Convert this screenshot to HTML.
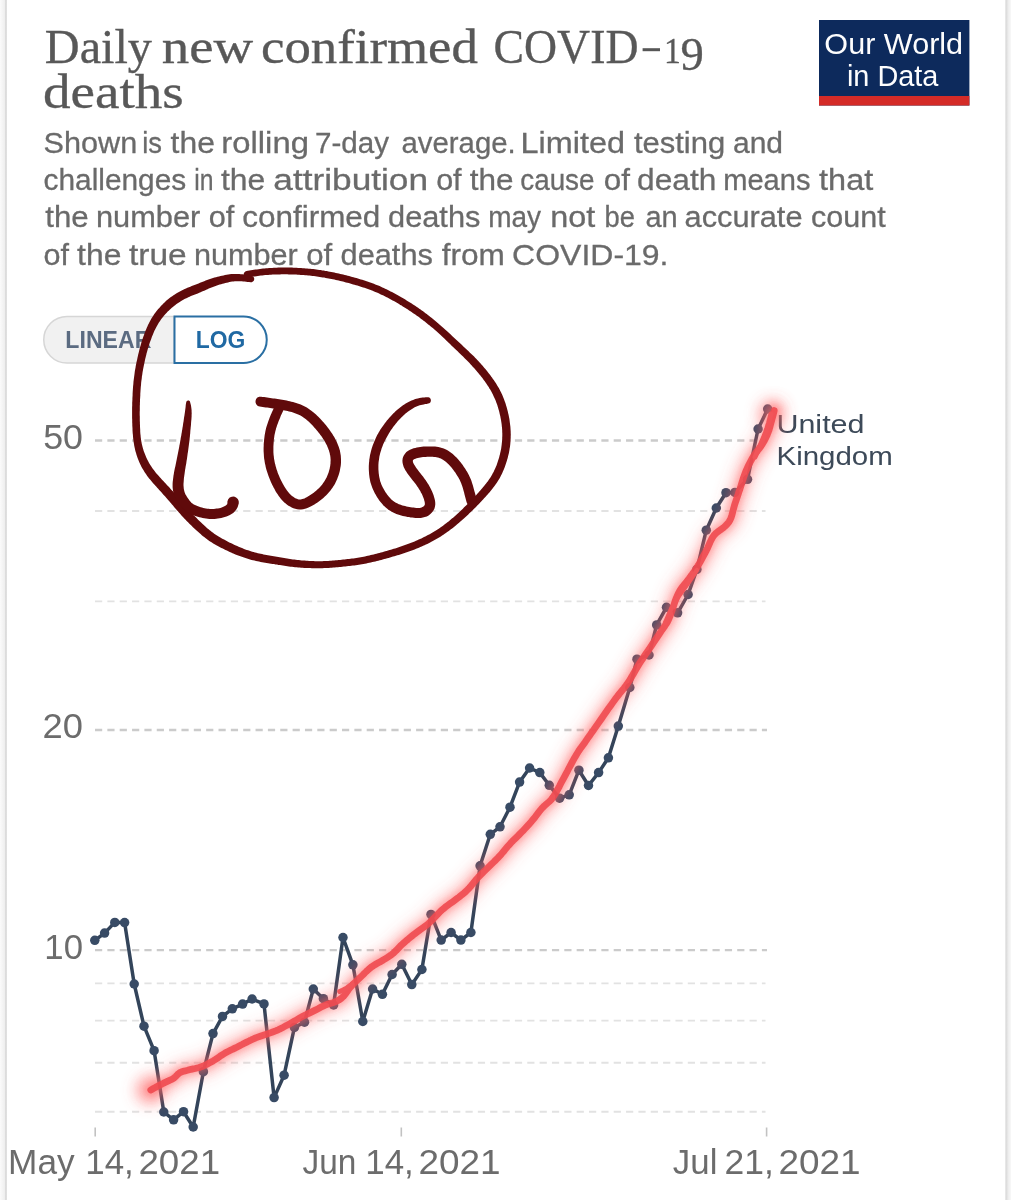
<!DOCTYPE html>
<html><head><meta charset="utf-8"><title>Daily new confirmed COVID-19 deaths</title>
<style>
html,body{margin:0;padding:0;background:#fff;}
body{width:1011px;height:1200px;overflow:hidden;font-family:"Liberation Sans",sans-serif;}
svg{display:block}
text{font-family:"Liberation Sans",sans-serif}
.serif{font-family:"Liberation Serif",serif}
</style></head><body>
<svg width="1011" height="1200" viewBox="0 0 1011 1200">
<defs>
<linearGradient id="lg" x1="0" x2="1" y1="0" y2="0"><stop offset="0" stop-color="#fbfbfb"/><stop offset="0.62" stop-color="#efefef"/><stop offset="0.75" stop-color="#dcdcdc"/><stop offset="0.9" stop-color="#e0e0e0"/><stop offset="1" stop-color="#ffffff"/></linearGradient>
<linearGradient id="rg" x1="0" x2="1" y1="0" y2="0"><stop offset="0" stop-color="#ffffff"/><stop offset="0.12" stop-color="#dcdcdc"/><stop offset="0.3" stop-color="#dedede"/><stop offset="0.5" stop-color="#ececec"/><stop offset="1" stop-color="#f8f8f8"/></linearGradient>
<filter id="glow" x="-10%" y="-10%" width="120%" height="120%"><feGaussianBlur stdDeviation="4.5"/></filter>
<filter id="glow2" x="-100%" y="-100%" width="300%" height="300%"><feGaussianBlur stdDeviation="7"/></filter>
<filter id="glow3" x="-10%" y="-10%" width="120%" height="120%"><feGaussianBlur stdDeviation="3"/></filter>
</defs>
<rect width="1011" height="1200" fill="#fff"/>
<rect x="0" y="0" width="7.3" height="1200" fill="url(#lg)"/>
<rect x="1005" y="0" width="6" height="1200" fill="url(#rg)"/>

<rect x="819" y="20" width="150.4" height="85.5" fill="#0d2a5c"/><rect x="819" y="96" width="150.4" height="9.5" fill="#d42b27"/>
<rect x="642.6" y="48.2" width="17.4" height="3" fill="#575757"/>
<path d="M174,316.5 H67 a23.25,23.25 0 0 0 0,46.5 H174 Z" fill="#f1f1f1" stroke="#d6d6d6" stroke-width="1.5"/>
<path d="M174.5,316.5 H243.5 a23.25,23.25 0 0 1 0,46.5 H174.5 Z" fill="#fff" stroke="#2a6fa3" stroke-width="2"/>
<line x1="95" x2="765.5" y1="1111.8" y2="1111.8" stroke="#e2e2e2" stroke-width="1.9" stroke-dasharray="7.2 5.15"/>
<line x1="95" x2="765.5" y1="1062.8" y2="1062.8" stroke="#e2e2e2" stroke-width="1.9" stroke-dasharray="7.2 5.15"/>
<line x1="95" x2="765.5" y1="1020.6" y2="1020.6" stroke="#e2e2e2" stroke-width="1.9" stroke-dasharray="7.2 5.15"/>
<line x1="95" x2="765.5" y1="983.4" y2="983.4" stroke="#e2e2e2" stroke-width="1.9" stroke-dasharray="7.2 5.15"/>
<line x1="95" x2="765.5" y1="601.4" y2="601.4" stroke="#e2e2e2" stroke-width="1.9" stroke-dasharray="7.2 5.15"/>
<line x1="95" x2="765.5" y1="511.0" y2="511.0" stroke="#e2e2e2" stroke-width="1.9" stroke-dasharray="7.2 5.15"/>
<line x1="95" x2="767" y1="950.2" y2="950.2" stroke="#cbcbcb" stroke-width="2.3" stroke-dasharray="7.2 5.15"/>
<line x1="95" x2="767" y1="730.0" y2="730.0" stroke="#cbcbcb" stroke-width="2.3" stroke-dasharray="7.2 5.15"/>
<line x1="95" x2="767" y1="440.5" y2="440.5" stroke="#cbcbcb" stroke-width="2.3" stroke-dasharray="7.2 5.15"/>
<line x1="95.2" x2="95.2" y1="1127.5" y2="1136.5" stroke="#c2c2c2" stroke-width="1.6"/>
<line x1="401.3" x2="401.3" y1="1127.5" y2="1136.5" stroke="#c2c2c2" stroke-width="1.6"/>
<line x1="766.6" x2="766.6" y1="1127.5" y2="1136.5" stroke="#c2c2c2" stroke-width="1.6"/>
<g opacity="0.995">
<text class="serif" transform="translate(44.85,62.50) scale(0.9744,1)" font-size="49.5" stroke="#575757" stroke-width="0.35" fill="#575757">Daily</text>
<text class="serif" transform="translate(161.74,62.50) scale(1.1089,1)" font-size="49.5" stroke="#575757" stroke-width="0.35" fill="#575757">new</text>
<text class="serif" transform="translate(260.95,62.50) scale(1.0670,1)" font-size="49.5" stroke="#575757" stroke-width="0.35" fill="#575757">confirmed</text>
<text class="serif" transform="translate(493.47,62.50) scale(0.9252,1)" font-size="49.5" stroke="#575757" stroke-width="0.35" fill="#575757">COVID</text>
<text class="serif" transform="translate(663.98,62.50) scale(0.9333,1)" font-size="36" stroke="#575757" stroke-width="0.35" fill="#575757">1</text>
<text class="serif" transform="translate(680.44,70.00) scale(0.9817,1)" font-size="47.5" stroke="#575757" stroke-width="0.35" fill="#575757">9</text>
<text class="serif" transform="translate(43.08,108.00) scale(1.1115,1)" font-size="49.5" stroke="#575757" stroke-width="0.35" fill="#575757">deaths</text>
<text transform="translate(43.54,153.10) scale(1.0213,1)" font-size="30" stroke="#696969" stroke-width="0.3" fill="#696969">Shown</text>
<text transform="translate(142.19,153.10) scale(0.9123,1)" font-size="30" stroke="#696969" stroke-width="0.3" fill="#696969">is</text>
<text transform="translate(170.60,153.10) scale(1.0620,1)" font-size="30" stroke="#696969" stroke-width="0.3" fill="#696969">the</text>
<text transform="translate(221.35,153.10) scale(1.0944,1)" font-size="30" stroke="#696969" stroke-width="0.3" fill="#696969">rolling</text>
<text transform="translate(314.91,153.10) scale(0.9873,1)" font-size="30" stroke="#696969" stroke-width="0.3" fill="#696969">7-day</text>
<text transform="translate(401.48,153.10) scale(0.9788,1)" font-size="30" stroke="#696969" stroke-width="0.3" fill="#696969">average.</text>
<text transform="translate(520.57,153.10) scale(1.0801,1)" font-size="30" stroke="#696969" stroke-width="0.3" fill="#696969">Limited</text>
<text transform="translate(633.90,153.10) scale(1.0334,1)" font-size="30" stroke="#696969" stroke-width="0.3" fill="#696969">testing</text>
<text transform="translate(732.96,153.10) scale(1.0014,1)" font-size="30" stroke="#696969" stroke-width="0.3" fill="#696969">and</text>
<text transform="translate(43.57,190.30) scale(0.9953,1)" font-size="30" stroke="#696969" stroke-width="0.3" fill="#696969">challenges</text>
<text transform="translate(194.26,190.30) scale(0.8236,1)" font-size="30" stroke="#696969" stroke-width="0.3" fill="#696969">in</text>
<text transform="translate(221.00,190.30) scale(1.0620,1)" font-size="30" stroke="#696969" stroke-width="0.3" fill="#696969">the</text>
<text transform="translate(273.30,190.30) scale(1.1748,1)" font-size="30" stroke="#696969" stroke-width="0.3" fill="#696969">attribution</text>
<text transform="translate(436.15,190.30) scale(1.0172,1)" font-size="30" stroke="#696969" stroke-width="0.3" fill="#696969">of</text>
<text transform="translate(469.70,190.30) scale(1.0497,1)" font-size="30" stroke="#696969" stroke-width="0.3" fill="#696969">the</text>
<text transform="translate(520.23,190.30) scale(0.9281,1)" font-size="30" stroke="#696969" stroke-width="0.3" fill="#696969">cause</text>
<text transform="translate(603.82,190.30) scale(1.0461,1)" font-size="30" stroke="#696969" stroke-width="0.3" fill="#696969">of</text>
<text transform="translate(637.11,190.30) scale(1.0559,1)" font-size="30" stroke="#696969" stroke-width="0.3" fill="#696969">death</text>
<text transform="translate(723.18,190.30) scale(0.9698,1)" font-size="30" stroke="#696969" stroke-width="0.3" fill="#696969">means</text>
<text transform="translate(819.10,190.30) scale(1.0829,1)" font-size="30" stroke="#696969" stroke-width="0.3" fill="#696969">that</text>
<text transform="translate(45.30,227.30) scale(1.0423,1)" font-size="30" stroke="#696969" stroke-width="0.3" fill="#696969">the</text>
<text transform="translate(95.98,227.30) scale(1.0261,1)" font-size="30" stroke="#696969" stroke-width="0.3" fill="#696969">number</text>
<text transform="translate(208.74,227.30) scale(1.0213,1)" font-size="30" stroke="#696969" stroke-width="0.3" fill="#696969">of</text>
<text transform="translate(242.32,227.30) scale(1.0481,1)" font-size="30" stroke="#696969" stroke-width="0.3" fill="#696969">confirmed</text>
<text transform="translate(388.04,227.30) scale(1.0261,1)" font-size="30" stroke="#696969" stroke-width="0.3" fill="#696969">deaths</text>
<text transform="translate(488.15,227.30) scale(0.9325,1)" font-size="30" stroke="#696969" stroke-width="0.3" fill="#696969">may</text>
<text transform="translate(550.18,227.30) scale(1.0793,1)" font-size="30" stroke="#696969" stroke-width="0.3" fill="#696969">not</text>
<text transform="translate(604.59,227.30) scale(0.9115,1)" font-size="30" stroke="#696969" stroke-width="0.3" fill="#696969">be</text>
<text transform="translate(645.49,227.30) scale(0.9659,1)" font-size="30" stroke="#696969" stroke-width="0.3" fill="#696969">an</text>
<text transform="translate(684.54,227.30) scale(1.0256,1)" font-size="30" stroke="#696969" stroke-width="0.3" fill="#696969">accurate</text>
<text transform="translate(811.05,227.30) scale(1.0172,1)" font-size="30" stroke="#696969" stroke-width="0.3" fill="#696969">count</text>
<text transform="translate(43.55,264.90) scale(1.0172,1)" font-size="30" stroke="#696969" stroke-width="0.3" fill="#696969">of</text>
<text transform="translate(77.10,264.90) scale(1.0620,1)" font-size="30" stroke="#696969" stroke-width="0.3" fill="#696969">the</text>
<text transform="translate(129.00,264.90) scale(1.1173,1)" font-size="30" stroke="#696969" stroke-width="0.3" fill="#696969">true</text>
<text transform="translate(193.89,264.90) scale(1.0211,1)" font-size="30" stroke="#696969" stroke-width="0.3" fill="#696969">number</text>
<text transform="translate(306.13,264.90) scale(1.0379,1)" font-size="30" stroke="#696969" stroke-width="0.3" fill="#696969">of</text>
<text transform="translate(340.54,264.90) scale(1.0261,1)" font-size="30" stroke="#696969" stroke-width="0.3" fill="#696969">deaths</text>
<text transform="translate(441.80,264.90) scale(1.0522,1)" font-size="30" stroke="#696969" stroke-width="0.3" fill="#696969">from</text>
<text transform="translate(512.10,264.90) scale(1.0667,1)" font-size="30" stroke="#696969" stroke-width="0.3" fill="#696969">COVID-19.</text>
<text transform="translate(824.37,53.60) scale(1.0131,1)" font-size="30.2" fill="#ffffff">Our World</text>
<text transform="translate(846.89,85.50) scale(0.9693,1)" font-size="29.8" fill="#ffffff">in Data</text>
<text transform="translate(65.36,348.10) scale(0.9315,1)" font-size="24.8" font-weight="bold" fill="#5a6a80">LINEAR</text>
<text transform="translate(195.77,348.10) scale(0.9228,1)" font-size="24.8" font-weight="bold" fill="#1f68a3">LOG</text>
<text transform="translate(43.18,448.80) scale(1.0082,1)" font-size="35.5" fill="#6b6b6b">50</text>
<text transform="translate(42.60,738.30) scale(1.0233,1)" font-size="35.5" fill="#6b6b6b">20</text>
<text transform="translate(44.33,958.50) scale(0.9785,1)" font-size="35.5" fill="#6b6b6b">10</text>
<text transform="translate(8.05,1174.30) scale(1.0211,1)" font-size="34.5" fill="#6b6b6b">May</text>
<text transform="translate(85.22,1174.30) scale(1.0133,1)" font-size="34.5" fill="#6b6b6b">14,</text>
<text transform="translate(138.48,1174.30) scale(1.0633,1)" font-size="34.5" fill="#6b6b6b">2021</text>
<text transform="translate(302.58,1174.30) scale(0.9690,1)" font-size="34.5" fill="#6b6b6b">Jun</text>
<text transform="translate(365.22,1174.30) scale(1.0133,1)" font-size="34.5" fill="#6b6b6b">14,</text>
<text transform="translate(418.47,1174.30) scale(1.0701,1)" font-size="34.5" fill="#6b6b6b">2021</text>
<text transform="translate(672.86,1174.30) scale(1.0100,1)" font-size="34.5" fill="#6b6b6b">Jul</text>
<text transform="translate(724.54,1174.30) scale(1.0282,1)" font-size="34.5" fill="#6b6b6b">21,</text>
<text transform="translate(778.47,1174.30) scale(1.0701,1)" font-size="34.5" fill="#6b6b6b">2021</text>
<text transform="translate(776.39,432.70) scale(1.1725,1)" font-size="26" fill="#3c4958">United</text>
<text transform="translate(776.50,465.10) scale(1.1336,1)" font-size="26" fill="#3c4958">Kingdom</text>
</g>
<path d="M94.8,940.3 L104.6,933.1 L114.8,922.4 L124.6,922.6 L134.2,984.0 L144.0,1026.2 L154.1,1050.7 L163.8,1112.0 L173.6,1119.8 L183.5,1111.7 L193.2,1127.0 L203.4,1071.7 L213.0,1033.6 L222.5,1016.4 L232.3,1008.8 L242.6,1004.1 L252.1,999.0 L264.0,1003.9 L274.1,1097.6 L284.1,1075.2 L294.4,1027.4 L304.5,1022.2 L313.3,989.0 L323.4,998.7 L333.6,1005.0 L343.0,937.5 L352.9,964.8 L362.8,1021.5 L372.6,989.0 L382.4,994.3 L392.1,974.5 L401.8,964.3 L411.8,984.6 L421.9,969.5 L431.0,914.4 L441.2,940.1 L451.1,932.5 L460.9,940.1 L470.9,932.5 L480.1,865.8 L490.3,834.3 L500.0,826.8 L510.0,807.2 L519.6,782.1 L529.6,768.0 L539.8,772.6 L549.3,785.3 L559.6,798.2 L569.2,794.8 L578.9,770.2 L588.5,785.5 L598.6,772.6 L608.4,757.8 L618.3,726.1 L629.8,687.5 L637.0,659.2 L649.0,655.0 L656.7,624.9 L666.5,607.3 L677.6,612.8 L688.1,594.5 L696.9,569.4 L706.3,530.2 L716.3,508.0 L726.0,492.7 L734.9,492.4 L747.5,479.3 L758.1,429.0 L767.7,409.0" fill="none" stroke="#33445a" stroke-width="3.5" stroke-linejoin="round" stroke-linecap="round"/>
<g fill="#384b65"><circle cx="94.8" cy="940.3" r="4.75"/><circle cx="104.6" cy="933.1" r="4.75"/><circle cx="114.8" cy="922.4" r="4.75"/><circle cx="124.6" cy="922.6" r="4.75"/><circle cx="134.2" cy="984.0" r="4.75"/><circle cx="144.0" cy="1026.2" r="4.75"/><circle cx="154.1" cy="1050.7" r="4.75"/><circle cx="163.8" cy="1112.0" r="4.75"/><circle cx="173.6" cy="1119.8" r="4.75"/><circle cx="183.5" cy="1111.7" r="4.75"/><circle cx="193.2" cy="1127.0" r="4.75"/><circle cx="203.4" cy="1071.7" r="4.75"/><circle cx="213.0" cy="1033.6" r="4.75"/><circle cx="222.5" cy="1016.4" r="4.75"/><circle cx="232.3" cy="1008.8" r="4.75"/><circle cx="242.6" cy="1004.1" r="4.75"/><circle cx="252.1" cy="999.0" r="4.75"/><circle cx="264.0" cy="1003.9" r="4.75"/><circle cx="274.1" cy="1097.6" r="4.75"/><circle cx="284.1" cy="1075.2" r="4.75"/><circle cx="294.4" cy="1027.4" r="4.75"/><circle cx="304.5" cy="1022.2" r="4.75"/><circle cx="313.3" cy="989.0" r="4.75"/><circle cx="323.4" cy="998.7" r="4.75"/><circle cx="333.6" cy="1005.0" r="4.75"/><circle cx="343.0" cy="937.5" r="4.75"/><circle cx="352.9" cy="964.8" r="4.75"/><circle cx="362.8" cy="1021.5" r="4.75"/><circle cx="372.6" cy="989.0" r="4.75"/><circle cx="382.4" cy="994.3" r="4.75"/><circle cx="392.1" cy="974.5" r="4.75"/><circle cx="401.8" cy="964.3" r="4.75"/><circle cx="411.8" cy="984.6" r="4.75"/><circle cx="421.9" cy="969.5" r="4.75"/><circle cx="431.0" cy="914.4" r="4.75"/><circle cx="441.2" cy="940.1" r="4.75"/><circle cx="451.1" cy="932.5" r="4.75"/><circle cx="460.9" cy="940.1" r="4.75"/><circle cx="470.9" cy="932.5" r="4.75"/><circle cx="480.1" cy="865.8" r="4.75"/><circle cx="490.3" cy="834.3" r="4.75"/><circle cx="500.0" cy="826.8" r="4.75"/><circle cx="510.0" cy="807.2" r="4.75"/><circle cx="519.6" cy="782.1" r="4.75"/><circle cx="529.6" cy="768.0" r="4.75"/><circle cx="539.8" cy="772.6" r="4.75"/><circle cx="549.3" cy="785.3" r="4.75"/><circle cx="559.6" cy="798.2" r="4.75"/><circle cx="569.2" cy="794.8" r="4.75"/><circle cx="578.9" cy="770.2" r="4.75"/><circle cx="588.5" cy="785.5" r="4.75"/><circle cx="598.6" cy="772.6" r="4.75"/><circle cx="608.4" cy="757.8" r="4.75"/><circle cx="618.3" cy="726.1" r="4.75"/><circle cx="629.8" cy="687.5" r="4.75"/><circle cx="637.0" cy="659.2" r="4.75"/><circle cx="649.0" cy="655.0" r="4.75"/><circle cx="656.7" cy="624.9" r="4.75"/><circle cx="666.5" cy="607.3" r="4.75"/><circle cx="677.6" cy="612.8" r="4.75"/><circle cx="688.1" cy="594.5" r="4.75"/><circle cx="696.9" cy="569.4" r="4.75"/><circle cx="706.3" cy="530.2" r="4.75"/><circle cx="716.3" cy="508.0" r="4.75"/><circle cx="726.0" cy="492.7" r="4.75"/><circle cx="734.9" cy="492.4" r="4.75"/><circle cx="747.5" cy="479.3" r="4.75"/><circle cx="758.1" cy="429.0" r="4.75"/><circle cx="767.7" cy="409.0" r="4.75"/></g>
<circle cx="150" cy="1090" r="15" fill="#ff6a6a" fill-opacity="0.42" filter="url(#glow2)"/>
<circle cx="771" cy="413" r="13" fill="#ff6a6a" fill-opacity="0.4" filter="url(#glow2)"/>
<path d="M150.8,1090.0 L151.6,1089.6 L152.7,1089.0 L153.9,1088.2 L155.3,1087.5 L156.7,1086.7 L158.0,1086.0 L159.2,1085.4 L160.5,1084.7 L161.7,1084.1 L163.0,1083.5 L164.3,1082.8 L165.6,1082.2 L167.0,1081.5 L168.4,1080.9 L169.8,1080.2 L171.3,1079.6 L172.6,1078.9 L173.9,1078.1 L175.0,1077.2 L175.9,1076.3 L176.8,1075.3 L177.7,1074.4 L178.7,1073.5 L179.9,1072.7 L181.2,1072.1 L182.7,1071.6 L184.2,1071.1 L185.9,1070.7 L187.5,1070.3 L189.3,1069.8 L191.1,1069.3 L193.1,1068.9 L195.1,1068.5 L197.1,1068.0 L199.2,1067.5 L201.2,1066.8 L203.2,1066.0 L205.2,1065.1 L207.1,1064.2 L209.1,1063.1 L211.1,1062.0 L213.1,1060.9 L215.1,1059.7 L217.1,1058.4 L219.1,1057.0 L221.0,1055.6 L223.0,1054.3 L225.0,1053.1 L227.0,1052.0 L229.0,1051.0 L230.9,1050.0 L232.9,1049.1 L234.9,1048.1 L236.8,1047.2 L238.7,1046.2 L240.6,1045.2 L242.5,1044.3 L244.4,1043.3 L246.2,1042.4 L248.0,1041.5 L249.6,1040.7 L251.1,1040.0 L252.5,1039.3 L254.0,1038.7 L255.7,1037.9 L257.8,1037.1 L260.3,1036.2 L263.3,1035.2 L266.4,1034.2 L269.6,1033.1 L272.7,1032.0 L275.6,1030.9 L278.2,1029.8 L280.7,1028.6 L283.0,1027.4 L285.3,1026.1 L287.6,1024.9 L289.8,1023.7 L292.0,1022.5 L294.1,1021.3 L296.2,1020.1 L298.2,1018.9 L300.2,1017.7 L302.3,1016.6 L304.4,1015.5 L306.5,1014.4 L308.7,1013.4 L310.8,1012.4 L312.8,1011.4 L314.8,1010.4 L316.7,1009.4 L318.5,1008.5 L320.3,1007.5 L322.0,1006.6 L323.7,1005.8 L325.5,1005.0 L327.3,1004.3 L329.2,1003.7 L331.0,1003.2 L332.8,1002.7 L334.5,1002.1 L336.1,1001.5 L337.5,1000.8 L338.8,1000.1 L339.9,999.4 L341.0,998.5 L342.1,997.6 L343.3,996.5 L344.4,995.2 L345.5,993.8 L346.6,992.2 L347.8,990.6 L349.0,988.9 L350.4,987.2 L352.0,985.5 L353.7,983.7 L355.5,981.9 L357.4,980.1 L359.3,978.3 L361.1,976.6 L362.9,974.9 L364.6,973.1 L366.4,971.4 L368.2,969.8 L369.9,968.2 L371.7,966.8 L373.5,965.6 L375.3,964.5 L377.0,963.5 L378.8,962.5 L380.6,961.6 L382.4,960.5 L384.2,959.4 L386.0,958.3 L387.9,957.1 L389.7,955.9 L391.4,954.7 L393.1,953.4 L394.6,952.0 L396.1,950.6 L397.5,949.1 L398.9,947.6 L400.3,946.1 L402.0,944.5 L403.8,942.9 L405.7,941.2 L407.8,939.5 L409.9,937.7 L412.0,936.0 L414.2,934.2 L416.5,932.5 L418.8,930.8 L421.2,929.1 L423.7,927.3 L426.1,925.5 L428.5,923.5 L430.9,921.3 L433.2,918.9 L435.6,916.4 L438.0,913.9 L440.3,911.5 L442.7,909.3 L445.1,907.3 L447.6,905.4 L450.1,903.6 L452.5,901.9 L454.8,900.2 L457.0,898.6 L459.0,897.1 L460.8,895.6 L462.5,894.3 L464.2,892.9 L465.9,891.4 L467.6,889.7 L469.4,887.8 L471.2,885.7 L472.9,883.6 L474.7,881.4 L476.5,879.2 L478.3,877.2 L480.1,875.3 L481.9,873.5 L483.6,871.8 L485.4,870.1 L487.2,868.4 L489.0,866.6 L490.8,864.8 L492.6,863.1 L494.4,861.4 L496.1,859.6 L497.9,857.8 L499.7,855.9 L501.5,853.9 L503.3,851.8 L505.0,849.6 L506.8,847.5 L508.6,845.4 L510.4,843.4 L512.2,841.5 L514.0,839.7 L515.8,838.0 L517.5,836.3 L519.3,834.5 L521.1,832.7 L522.9,830.9 L524.6,829.0 L526.4,827.1 L528.2,825.2 L529.9,823.2 L531.7,821.2 L533.5,819.0 L535.3,816.8 L537.0,814.5 L538.8,812.1 L540.6,809.9 L542.4,807.8 L544.2,806.0 L545.9,804.5 L547.6,803.0 L549.4,801.5 L551.2,799.6 L553.1,797.1 L555.1,794.0 L557.2,790.3 L559.4,786.3 L561.5,782.1 L563.7,778.1 L565.7,774.3 L567.6,770.8 L569.4,767.3 L571.2,764.0 L573.0,760.7 L574.8,757.4 L576.7,754.2 L578.7,751.0 L580.8,747.9 L583.0,744.9 L585.2,741.9 L587.3,738.8 L589.5,735.8 L591.6,732.7 L593.8,729.7 L595.9,726.6 L598.0,723.6 L600.2,720.5 L602.3,717.5 L604.4,714.4 L606.6,711.3 L608.7,708.2 L610.9,705.2 L613.1,702.1 L615.2,699.2 L617.4,696.4 L619.5,693.6 L621.7,691.0 L623.9,688.3 L626.0,685.5 L628.0,682.7 L629.9,679.7 L631.8,676.6 L633.6,673.5 L635.4,670.4 L637.2,667.3 L639.0,664.3 L640.8,661.4 L642.7,658.7 L644.5,655.9 L646.3,653.2 L648.2,650.5 L650.0,647.8 L651.9,645.0 L653.8,642.1 L655.7,639.3 L657.6,636.5 L659.4,633.8 L661.0,631.3 L662.5,629.2 L663.8,627.4 L665.0,625.7 L666.2,623.9 L667.5,621.7 L668.8,619.0 L670.3,615.4 L671.8,611.1 L673.4,606.5 L674.9,601.8 L676.5,597.5 L678.1,593.8 L679.7,590.9 L681.2,588.5 L682.8,586.4 L684.4,584.5 L685.9,582.7 L687.5,580.6 L689.1,578.5 L690.6,576.4 L692.2,574.3 L693.8,572.1 L695.3,569.9 L696.9,567.5 L698.5,564.9 L700.1,562.1 L701.7,559.2 L703.3,556.2 L704.8,553.4 L706.3,550.6 L707.6,547.9 L708.8,545.2 L709.9,542.6 L711.1,540.1 L712.4,537.7 L713.8,535.6 L715.5,533.7 L717.5,532.0 L719.5,530.5 L721.5,529.1 L723.4,527.7 L725.0,526.3 L726.3,525.0 L727.3,523.9 L728.3,522.8 L729.1,521.7 L729.8,520.4 L730.6,518.8 L731.3,517.0 L731.9,515.0 L732.5,512.8 L733.1,510.5 L733.7,508.1 L734.4,505.6 L735.2,503.0 L736.1,500.3 L737.1,497.4 L738.1,494.5 L739.0,491.6 L740.0,488.8 L740.9,486.0 L741.8,483.1 L742.7,480.2 L743.6,477.4 L744.6,474.6 L745.6,471.9 L746.7,469.3 L747.9,466.7 L749.1,464.2 L750.4,461.7 L751.7,459.3 L753.1,456.9 L754.6,454.6 L756.2,452.3 L757.9,450.1 L759.6,448.0 L761.1,445.9 L762.5,443.8 L763.7,441.8 L764.7,440.0 L765.6,438.2 L766.5,436.3 L767.3,434.5 L768.1,432.5 L768.9,430.4 L769.6,428.1 L770.2,425.8 L770.8,423.5 L771.4,421.4 L771.9,419.4 L772.4,417.6 L772.9,415.8 L773.3,414.1 L773.7,412.7 L774.0,411.4 L774.2,410.5" fill="none" stroke="#ff6060" stroke-opacity="0.34" stroke-width="21" stroke-linecap="round" stroke-linejoin="round" filter="url(#glow2)"/>
<path d="M150.8,1090.0 L151.6,1089.6 L152.7,1089.0 L153.9,1088.2 L155.3,1087.5 L156.7,1086.7 L158.0,1086.0 L159.2,1085.4 L160.5,1084.7 L161.7,1084.1 L163.0,1083.5 L164.3,1082.8 L165.6,1082.2 L167.0,1081.5 L168.4,1080.9 L169.8,1080.2 L171.3,1079.6 L172.6,1078.9 L173.9,1078.1 L175.0,1077.2 L175.9,1076.3 L176.8,1075.3 L177.7,1074.4 L178.7,1073.5 L179.9,1072.7 L181.2,1072.1 L182.7,1071.6 L184.2,1071.1 L185.9,1070.7 L187.5,1070.3 L189.3,1069.8 L191.1,1069.3 L193.1,1068.9 L195.1,1068.5 L197.1,1068.0 L199.2,1067.5 L201.2,1066.8 L203.2,1066.0 L205.2,1065.1 L207.1,1064.2 L209.1,1063.1 L211.1,1062.0 L213.1,1060.9 L215.1,1059.7 L217.1,1058.4 L219.1,1057.0 L221.0,1055.6 L223.0,1054.3 L225.0,1053.1 L227.0,1052.0 L229.0,1051.0 L230.9,1050.0 L232.9,1049.1 L234.9,1048.1 L236.8,1047.2 L238.7,1046.2 L240.6,1045.2 L242.5,1044.3 L244.4,1043.3 L246.2,1042.4 L248.0,1041.5 L249.6,1040.7 L251.1,1040.0 L252.5,1039.3 L254.0,1038.7 L255.7,1037.9 L257.8,1037.1 L260.3,1036.2 L263.3,1035.2 L266.4,1034.2 L269.6,1033.1 L272.7,1032.0 L275.6,1030.9 L278.2,1029.8 L280.7,1028.6 L283.0,1027.4 L285.3,1026.1 L287.6,1024.9 L289.8,1023.7 L292.0,1022.5 L294.1,1021.3 L296.2,1020.1 L298.2,1018.9 L300.2,1017.7 L302.3,1016.6 L304.4,1015.5 L306.5,1014.4 L308.7,1013.4 L310.8,1012.4 L312.8,1011.4 L314.8,1010.4 L316.7,1009.4 L318.5,1008.5 L320.3,1007.5 L322.0,1006.6 L323.7,1005.8 L325.5,1005.0 L327.3,1004.3 L329.2,1003.7 L331.0,1003.2 L332.8,1002.7 L334.5,1002.1 L336.1,1001.5 L337.5,1000.8 L338.8,1000.1 L339.9,999.4 L341.0,998.5 L342.1,997.6 L343.3,996.5 L344.4,995.2 L345.5,993.8 L346.6,992.2 L347.8,990.6 L349.0,988.9 L350.4,987.2 L352.0,985.5 L353.7,983.7 L355.5,981.9 L357.4,980.1 L359.3,978.3 L361.1,976.6 L362.9,974.9 L364.6,973.1 L366.4,971.4 L368.2,969.8 L369.9,968.2 L371.7,966.8 L373.5,965.6 L375.3,964.5 L377.0,963.5 L378.8,962.5 L380.6,961.6 L382.4,960.5 L384.2,959.4 L386.0,958.3 L387.9,957.1 L389.7,955.9 L391.4,954.7 L393.1,953.4 L394.6,952.0 L396.1,950.6 L397.5,949.1 L398.9,947.6 L400.3,946.1 L402.0,944.5 L403.8,942.9 L405.7,941.2 L407.8,939.5 L409.9,937.7 L412.0,936.0 L414.2,934.2 L416.5,932.5 L418.8,930.8 L421.2,929.1 L423.7,927.3 L426.1,925.5 L428.5,923.5 L430.9,921.3 L433.2,918.9 L435.6,916.4 L438.0,913.9 L440.3,911.5 L442.7,909.3 L445.1,907.3 L447.6,905.4 L450.1,903.6 L452.5,901.9 L454.8,900.2 L457.0,898.6 L459.0,897.1 L460.8,895.6 L462.5,894.3 L464.2,892.9 L465.9,891.4 L467.6,889.7 L469.4,887.8 L471.2,885.7 L472.9,883.6 L474.7,881.4 L476.5,879.2 L478.3,877.2 L480.1,875.3 L481.9,873.5 L483.6,871.8 L485.4,870.1 L487.2,868.4 L489.0,866.6 L490.8,864.8 L492.6,863.1 L494.4,861.4 L496.1,859.6 L497.9,857.8 L499.7,855.9 L501.5,853.9 L503.3,851.8 L505.0,849.6 L506.8,847.5 L508.6,845.4 L510.4,843.4 L512.2,841.5 L514.0,839.7 L515.8,838.0 L517.5,836.3 L519.3,834.5 L521.1,832.7 L522.9,830.9 L524.6,829.0 L526.4,827.1 L528.2,825.2 L529.9,823.2 L531.7,821.2 L533.5,819.0 L535.3,816.8 L537.0,814.5 L538.8,812.1 L540.6,809.9 L542.4,807.8 L544.2,806.0 L545.9,804.5 L547.6,803.0 L549.4,801.5 L551.2,799.6 L553.1,797.1 L555.1,794.0 L557.2,790.3 L559.4,786.3 L561.5,782.1 L563.7,778.1 L565.7,774.3 L567.6,770.8 L569.4,767.3 L571.2,764.0 L573.0,760.7 L574.8,757.4 L576.7,754.2 L578.7,751.0 L580.8,747.9 L583.0,744.9 L585.2,741.9 L587.3,738.8 L589.5,735.8 L591.6,732.7 L593.8,729.7 L595.9,726.6 L598.0,723.6 L600.2,720.5 L602.3,717.5 L604.4,714.4 L606.6,711.3 L608.7,708.2 L610.9,705.2 L613.1,702.1 L615.2,699.2 L617.4,696.4 L619.5,693.6 L621.7,691.0 L623.9,688.3 L626.0,685.5 L628.0,682.7 L629.9,679.7 L631.8,676.6 L633.6,673.5 L635.4,670.4 L637.2,667.3 L639.0,664.3 L640.8,661.4 L642.7,658.7 L644.5,655.9 L646.3,653.2 L648.2,650.5 L650.0,647.8 L651.9,645.0 L653.8,642.1 L655.7,639.3 L657.6,636.5 L659.4,633.8 L661.0,631.3 L662.5,629.2 L663.8,627.4 L665.0,625.7 L666.2,623.9 L667.5,621.7 L668.8,619.0 L670.3,615.4 L671.8,611.1 L673.4,606.5 L674.9,601.8 L676.5,597.5 L678.1,593.8 L679.7,590.9 L681.2,588.5 L682.8,586.4 L684.4,584.5 L685.9,582.7 L687.5,580.6 L689.1,578.5 L690.6,576.4 L692.2,574.3 L693.8,572.1 L695.3,569.9 L696.9,567.5 L698.5,564.9 L700.1,562.1 L701.7,559.2 L703.3,556.2 L704.8,553.4 L706.3,550.6 L707.6,547.9 L708.8,545.2 L709.9,542.6 L711.1,540.1 L712.4,537.7 L713.8,535.6 L715.5,533.7 L717.5,532.0 L719.5,530.5 L721.5,529.1 L723.4,527.7 L725.0,526.3 L726.3,525.0 L727.3,523.9 L728.3,522.8 L729.1,521.7 L729.8,520.4 L730.6,518.8 L731.3,517.0 L731.9,515.0 L732.5,512.8 L733.1,510.5 L733.7,508.1 L734.4,505.6 L735.2,503.0 L736.1,500.3 L737.1,497.4 L738.1,494.5 L739.0,491.6 L740.0,488.8 L740.9,486.0 L741.8,483.1 L742.7,480.2 L743.6,477.4 L744.6,474.6 L745.6,471.9 L746.7,469.3 L747.9,466.7 L749.1,464.2 L750.4,461.7 L751.7,459.3 L753.1,456.9 L754.6,454.6 L756.2,452.3 L757.9,450.1 L759.6,448.0 L761.1,445.9 L762.5,443.8 L763.7,441.8 L764.7,440.0 L765.6,438.2 L766.5,436.3 L767.3,434.5 L768.1,432.5 L768.9,430.4 L769.6,428.1 L770.2,425.8 L770.8,423.5 L771.4,421.4 L771.9,419.4 L772.4,417.6 L772.9,415.8 L773.3,414.1 L773.7,412.7 L774.0,411.4 L774.2,410.5" fill="none" stroke="#ff6262" stroke-opacity="0.38" stroke-width="11" stroke-linecap="round" stroke-linejoin="round" filter="url(#glow3)"/>
<g fill="none" stroke="#f04a50" stroke-opacity="0.9" stroke-linecap="round" stroke-linejoin="round">
<path d="M150.8,1090.0 L151.6,1089.6 L152.7,1089.0 L153.9,1088.2 L155.3,1087.5 L156.7,1086.7 L158.0,1086.0 L159.2,1085.4 L160.5,1084.7 L161.7,1084.1 L163.0,1083.5 L164.3,1082.8 L165.6,1082.2 L167.0,1081.5 L168.4,1080.9 L169.8,1080.2 L171.3,1079.6 L172.6,1078.9 L173.9,1078.1 L175.0,1077.2 L175.9,1076.3 L176.8,1075.3 L177.7,1074.4 L178.7,1073.5 L179.9,1072.7 L181.2,1072.1 L182.7,1071.6 L184.2,1071.1 L185.9,1070.7 L187.5,1070.3 L189.3,1069.8 L191.1,1069.3 L193.1,1068.9 L195.1,1068.5 L197.1,1068.0 L199.2,1067.5 L201.2,1066.8 L203.2,1066.0 L205.2,1065.1 L207.1,1064.2 L209.1,1063.1 L211.1,1062.0 L213.1,1060.9 L215.1,1059.7 L217.1,1058.4 L219.1,1057.0 L221.0,1055.6 L223.0,1054.3 L225.0,1053.1 L227.0,1052.0 L229.0,1051.0 L230.9,1050.0 L232.9,1049.1 L234.9,1048.1 L236.8,1047.2 L238.7,1046.2 L240.6,1045.2 L242.5,1044.3 L244.4,1043.3 L246.2,1042.4 L248.0,1041.5 L249.6,1040.7 L251.1,1040.0 L252.5,1039.3 L254.0,1038.7 L255.7,1037.9 L257.8,1037.1 L260.3,1036.2 L263.3,1035.2 L266.4,1034.2 L269.6,1033.1 L272.7,1032.0 L275.6,1030.9 L278.2,1029.8 L280.7,1028.6 L283.0,1027.4 L285.3,1026.1 L287.6,1024.9 L289.8,1023.7 L292.0,1022.5 L294.1,1021.3 L296.2,1020.1 L298.2,1018.9 L300.2,1017.7 L302.3,1016.6 L304.4,1015.5 L306.5,1014.4 L308.7,1013.4 L310.8,1012.4 L312.8,1011.4 L314.8,1010.4 L316.7,1009.4 L318.5,1008.5 L320.3,1007.5 L322.0,1006.6 L323.7,1005.8 L325.5,1005.0 L327.3,1004.3 L329.2,1003.7 L331.0,1003.2 L332.8,1002.7 L334.5,1002.1 L336.1,1001.5 L337.5,1000.8 L338.8,1000.1 L339.9,999.4 L341.0,998.5 L342.1,997.6 L343.3,996.5 L344.4,995.2 L345.5,993.8 L346.6,992.2 L347.8,990.6 L349.0,988.9 L350.4,987.2 L352.0,985.5 L353.7,983.7 L355.5,981.9 L357.4,980.1 L359.3,978.3 L361.1,976.6 L362.9,974.9 L364.6,973.1 L366.4,971.4 L368.2,969.8 L369.9,968.2 L371.7,966.8 L373.5,965.6 L375.3,964.5 L377.0,963.5 L378.8,962.5 L380.6,961.6 L382.4,960.5 L384.2,959.4 L386.0,958.3 L387.9,957.1 L389.7,955.9 L391.4,954.7 L393.1,953.4 L394.6,952.0 L396.1,950.6 L397.5,949.1 L398.9,947.6 L400.3,946.1 L402.0,944.5 L403.8,942.9 L405.7,941.2 L407.8,939.5 L409.9,937.7 L412.0,936.0 L414.2,934.2 L416.5,932.5 L418.8,930.8 L421.2,929.1 L423.7,927.3 L426.1,925.5 L428.5,923.5 L430.9,921.3 L433.2,918.9 L435.6,916.4 L438.0,913.9 L440.3,911.5 L442.7,909.3 L445.1,907.3 L447.6,905.4 L450.1,903.6 L452.5,901.9 L454.8,900.2 L457.0,898.6 L459.0,897.1 L460.8,895.6 L462.5,894.3 L464.2,892.9 L465.9,891.4 L467.6,889.7 L469.4,887.8 L471.2,885.7 L472.9,883.6 L474.7,881.4 L476.5,879.2 L478.3,877.2 L480.1,875.3 L481.9,873.5 L483.6,871.8 L485.4,870.1 L487.2,868.4 L489.0,866.6 L490.8,864.8 L492.6,863.1 L494.4,861.4 L496.1,859.6 L497.9,857.8 L499.7,855.9 L501.5,853.9 L503.3,851.8 L505.0,849.6 L506.8,847.5 L508.6,845.4 L510.4,843.4 L512.2,841.5 L514.0,839.7 L515.8,838.0 L517.5,836.3 L519.3,834.5 L521.1,832.7 L522.9,830.9 L524.6,829.0 L526.4,827.1 L528.2,825.2 L529.9,823.2 L531.7,821.2 L533.5,819.0 L535.3,816.8 L537.0,814.5 L538.8,812.1 L540.6,809.9 L542.4,807.8 L544.2,806.0 L545.9,804.5 L547.6,803.0 L549.4,801.5 L551.2,799.6 L553.1,797.1 L555.1,794.0 L557.2,790.3 L559.4,786.3 L561.5,782.1 L563.7,778.1 L565.7,774.3 L567.6,770.8 L569.4,767.3 L571.2,764.0 L573.0,760.7 L574.8,757.4 L576.7,754.2 L578.7,751.0 L580.8,747.9 L583.0,744.9 L585.2,741.9 L587.3,738.8 L589.5,735.8 L591.6,732.7 L593.8,729.7 L595.9,726.6 L598.0,723.6 L600.2,720.5 L602.3,717.5 L604.4,714.4 L606.6,711.3 L608.7,708.2 L610.9,705.2 L613.1,702.1 L615.2,699.2 L617.4,696.4 L619.5,693.6 L621.7,691.0 L623.9,688.3 L626.0,685.5 L628.0,682.7 L629.9,679.7 L631.8,676.6 L633.6,673.5 L635.4,670.4 L637.2,667.3 L639.0,664.3 L640.8,661.4 L642.7,658.7 L644.5,655.9 L646.3,653.2 L648.2,650.5 L650.0,647.8 L651.9,645.0 L653.8,642.1 L655.7,639.3 L657.6,636.5 L659.4,633.8 L661.0,631.3 L662.5,629.2 L663.8,627.4 L665.0,625.7 L666.2,623.9 L667.5,621.7 L668.8,619.0 L670.3,615.4 L671.8,611.1 L673.4,606.5 L674.9,601.8 L676.5,597.5 L678.1,593.8 L679.7,590.9 L681.2,588.5 L682.8,586.4 L684.4,584.5 L685.9,582.7 L687.5,580.6 L689.1,578.5 L690.6,576.4 L692.2,574.3 L693.8,572.1 L695.3,569.9 L696.9,567.5 L698.5,564.9 L700.1,562.1 L701.7,559.2 L703.3,556.2 L704.8,553.4 L706.3,550.6 L707.6,547.9 L708.8,545.2 L709.9,542.6 L711.1,540.1 L712.4,537.7 L713.8,535.6 L715.5,533.7 L717.5,532.0 L719.5,530.5 L721.5,529.1 L723.4,527.7 L725.0,526.3 L726.3,525.0 L727.3,523.9 L728.3,522.8 L729.1,521.7 L729.8,520.4 L730.6,518.8 L731.3,517.0 L731.9,515.0 L732.5,512.8 L733.1,510.5 L733.7,508.1 L734.4,505.6 L735.2,503.0 L736.1,500.3 L737.1,497.4 L738.1,494.5 L739.0,491.6 L740.0,488.8 L740.9,486.0 L741.8,483.1 L742.7,480.2 L743.6,477.4 L744.6,474.6 L745.6,471.9 L746.7,469.3 L747.9,466.7 L749.1,464.2 L750.4,461.7 L751.7,459.3 L753.1,456.9 L754.6,454.6 L756.2,452.3 L757.9,450.1 L759.6,448.0 L761.1,445.9 L762.5,443.8 L763.7,441.8 L764.7,440.0 L765.6,438.2 L766.5,436.3 L767.3,434.5 L768.1,432.5 L768.9,430.4 L769.6,428.1 L770.2,425.8 L770.8,423.5 L771.4,421.4 L771.9,419.4 L772.4,417.6 L772.9,415.8 L773.3,414.1 L773.7,412.7 L774.0,411.4 L774.2,410.5" stroke-width="6.8"/>
</g>
<g fill="none" stroke="#f1555a" stroke-linecap="round" stroke-linejoin="round">
<path d="M339.7,991.5 L340.4,991.2 L341.3,990.8 L342.5,990.3 L343.7,989.7 L344.9,989.1 L346.0,988.5 L347.1,987.8 L348.2,986.9 L349.4,986.1 L350.5,985.2 L351.4,984.5 L352.0,984.0" stroke-width="5"/>
<path d="M665.0,623.0 L665.8,621.3 L666.8,618.9 L668.0,616.1 L669.3,613.1 L670.7,610.1 L672.0,607.5 L673.3,605.2 L674.6,603.0 L675.9,600.8 L677.2,598.7 L678.6,596.6 L680.0,594.5 L681.5,592.4 L683.0,590.3 L684.5,588.2 L686.0,586.1 L687.5,584.0 L689.0,582.0 L690.5,579.8 L692.0,577.5 L693.6,575.2 L695.0,573.1 L696.1,571.3 L697.0,570.0" stroke-width="4.5"/>
<path d="M755.0,457.0 L755.8,455.2 L756.9,452.7 L758.2,449.8 L759.6,446.7 L760.9,443.7 L762.0,441.0 L763.0,438.7 L763.9,436.5 L764.7,434.4 L765.5,432.3 L766.2,430.2 L767.0,428.0 L767.8,425.6 L768.6,422.9 L769.3,420.2 L770.0,417.7 L770.6,415.5 L771.0,414.0" stroke-width="5"/>
</g>
<g fill="#600a0b">
<path d="M251.5,275.8 L250.0,275.5 L248.5,275.2 L247.0,275.0 L245.5,274.8 L244.0,274.5 L242.4,274.3 L240.8,274.2 L239.3,274.1 L237.7,274.0 L236.1,273.9 L234.5,273.9 L232.9,274.0 L231.3,274.1 L229.7,274.3 L228.1,274.5 L226.6,274.8 L225.0,275.0 L223.5,275.4 L222.0,275.7 L220.5,276.1 L219.0,276.4 L217.5,276.8 L216.0,277.2 L214.5,277.6 L213.0,278.1 L211.5,278.6 L210.0,279.0 L208.5,279.6 L207.1,280.1 L205.6,280.6 L204.2,281.2 L202.8,281.7 L201.4,282.3 L200.0,282.8 L198.6,283.4 L197.2,283.9 L195.9,284.5 L194.5,285.0 L193.1,285.6 L191.7,286.1 L190.3,286.7 L188.9,287.3 L187.4,287.8 L186.0,288.5 L184.6,289.1 L183.2,289.7 L181.7,290.4 L180.3,291.2 L178.9,291.9 L177.5,292.7 L176.2,293.5 L174.8,294.4 L173.5,295.2 L172.2,296.2 L170.9,297.1 L169.6,298.0 L168.4,299.0 L167.1,300.1 L165.9,301.1 L164.8,302.2 L163.6,303.3 L162.5,304.4 L161.4,305.5 L160.3,306.7 L159.3,307.9 L158.2,309.1 L157.2,310.3 L156.2,311.5 L155.3,312.8 L154.3,314.1 L153.4,315.4 L152.6,316.7 L151.7,318.1 L150.9,319.5 L150.1,320.9 L149.4,322.3 L148.7,323.7 L148.0,325.1 L147.4,326.5 L146.7,328.0 L146.1,329.4 L145.5,330.8 L145.0,332.3 L144.4,333.7 L143.9,335.2 L143.4,336.6 L142.9,338.1 L142.4,339.5 L141.9,341.0 L141.4,342.5 L141.0,343.9 L140.6,345.4 L140.1,346.9 L139.7,348.4 L139.3,349.9 L139.0,351.4 L138.6,352.9 L138.2,354.4 L137.9,355.9 L137.6,357.3 L137.3,358.8 L137.0,360.3 L136.6,361.8 L136.3,363.3 L136.0,364.8 L135.7,366.3 L135.5,367.8 L135.2,369.3 L134.9,370.8 L134.7,372.3 L134.5,373.9 L134.3,375.4 L134.1,376.9 L133.9,378.4 L133.7,380.0 L133.5,381.5 L133.4,383.0 L133.3,384.5 L133.1,386.1 L133.0,387.6 L132.9,389.1 L132.8,390.6 L132.7,392.1 L132.6,393.7 L132.6,395.2 L132.5,396.7 L132.4,398.2 L132.4,399.7 L132.3,401.2 L132.2,402.8 L132.2,404.3 L132.2,405.8 L132.1,407.3 L132.1,408.8 L132.1,410.4 L132.1,411.9 L132.1,413.4 L132.1,414.9 L132.1,416.5 L132.1,418.0 L132.2,419.5 L132.2,421.0 L132.2,422.5 L132.3,424.1 L132.3,425.6 L132.4,427.1 L132.5,428.6 L132.5,430.1 L132.6,431.7 L132.7,433.2 L132.9,434.7 L133.0,436.3 L133.1,437.8 L133.3,439.4 L133.5,440.9 L133.7,442.5 L134.0,444.0 L134.2,445.6 L134.5,447.1 L134.9,448.7 L135.2,450.2 L135.6,451.7 L136.1,453.3 L136.5,454.8 L137.0,456.3 L137.5,457.8 L138.1,459.3 L138.7,460.7 L139.3,462.2 L139.9,463.6 L140.6,465.1 L141.3,466.5 L142.1,467.9 L142.9,469.3 L143.7,470.6 L144.5,472.0 L145.4,473.3 L146.3,474.6 L147.2,475.9 L148.2,477.2 L149.1,478.4 L150.1,479.6 L151.1,480.8 L152.1,482.0 L153.1,483.2 L154.1,484.3 L155.2,485.5 L156.2,486.6 L157.2,487.7 L158.2,488.8 L159.2,489.9 L160.2,491.0 L161.2,492.1 L162.2,493.3 L163.2,494.4 L164.2,495.5 L165.2,496.6 L166.2,497.7 L167.1,498.8 L168.1,500.0 L169.1,501.1 L170.1,502.2 L171.0,503.3 L172.0,504.5 L173.0,505.6 L173.9,506.7 L174.9,507.9 L175.9,509.0 L176.9,510.2 L177.9,511.3 L178.9,512.5 L179.9,513.6 L180.9,514.8 L181.9,515.9 L183.0,517.1 L184.0,518.2 L185.1,519.3 L186.2,520.4 L187.2,521.5 L188.3,522.6 L189.4,523.7 L190.5,524.7 L191.6,525.8 L192.7,526.9 L193.8,527.9 L194.9,529.0 L196.0,530.0 L197.1,531.0 L198.3,532.1 L199.4,533.1 L200.6,534.1 L201.8,535.2 L203.0,536.2 L204.2,537.1 L205.4,538.1 L206.7,539.1 L208.0,540.0 L209.3,540.9 L210.6,541.8 L211.9,542.6 L213.2,543.4 L214.6,544.2 L215.9,545.0 L217.3,545.8 L218.7,546.5 L220.0,547.2 L221.4,547.9 L222.8,548.6 L224.1,549.3 L225.5,550.0 L226.9,550.6 L228.3,551.3 L229.7,551.9 L231.1,552.6 L232.5,553.2 L233.9,553.8 L235.4,554.4 L236.8,554.9 L238.2,555.5 L239.7,556.1 L241.1,556.6 L242.6,557.1 L244.0,557.6 L245.5,558.1 L247.0,558.6 L248.5,559.0 L250.0,559.4 L251.5,559.9 L253.0,560.2 L254.5,560.6 L256.0,561.0 L257.5,561.3 L259.0,561.6 L260.6,561.9 L262.1,562.2 L263.6,562.4 L265.1,562.7 L266.6,562.9 L268.1,563.2 L269.5,563.4 L271.0,563.7 L272.5,563.9 L274.0,564.1 L275.5,564.4 L277.0,564.6 L278.4,564.9 L279.9,565.1 L281.4,565.3 L282.9,565.6 L284.4,565.8 L285.9,566.0 L287.4,566.2 L288.9,566.5 L290.5,566.7 L292.0,566.8 L293.5,567.0 L295.0,567.2 L296.6,567.3 L298.1,567.5 L299.6,567.6 L301.1,567.7 L302.7,567.8 L304.2,567.9 L305.7,568.0 L307.2,568.0 L308.8,568.1 L310.3,568.1 L311.8,568.2 L313.3,568.2 L314.9,568.2 L316.4,568.2 L317.9,568.2 L319.5,568.2 L321.0,568.2 L322.5,568.2 L324.1,568.1 L325.6,568.1 L327.1,568.0 L328.7,567.9 L330.2,567.8 L331.7,567.7 L333.2,567.6 L334.7,567.4 L336.3,567.3 L337.8,567.2 L339.3,567.0 L340.8,566.9 L342.3,566.8 L343.8,566.6 L345.3,566.5 L346.8,566.3 L348.3,566.1 L349.8,566.0 L351.3,565.8 L352.8,565.6 L354.3,565.4 L355.9,565.2 L357.4,565.0 L358.9,564.8 L360.4,564.5 L361.9,564.3 L363.4,564.0 L364.9,563.7 L366.4,563.4 L367.9,563.1 L369.4,562.8 L370.9,562.4 L372.4,562.1 L373.9,561.8 L375.4,561.4 L376.9,561.0 L378.3,560.7 L379.8,560.3 L381.3,559.9 L382.7,559.5 L384.2,559.1 L385.7,558.7 L387.1,558.3 L388.6,557.9 L390.0,557.5 L391.5,557.0 L393.0,556.6 L394.4,556.2 L395.9,555.8 L397.3,555.3 L398.8,554.9 L400.2,554.4 L401.7,554.0 L403.1,553.5 L404.6,553.0 L406.0,552.6 L407.5,552.1 L408.9,551.6 L410.4,551.0 L411.8,550.5 L413.2,549.9 L414.6,549.4 L416.1,548.8 L417.5,548.2 L418.9,547.7 L420.3,547.1 L421.7,546.4 L423.1,545.8 L424.5,545.2 L425.9,544.5 L427.3,543.9 L428.7,543.2 L430.1,542.5 L431.4,541.8 L432.8,541.1 L434.1,540.3 L435.5,539.6 L436.8,538.8 L438.2,538.0 L439.5,537.2 L440.8,536.4 L442.1,535.5 L443.4,534.7 L444.7,533.8 L445.9,533.0 L447.2,532.1 L448.4,531.2 L449.7,530.3 L450.9,529.3 L452.1,528.4 L453.4,527.5 L454.6,526.5 L455.8,525.5 L456.9,524.6 L458.1,523.6 L459.3,522.6 L460.4,521.6 L461.6,520.6 L462.7,519.6 L463.9,518.5 L465.0,517.5 L466.1,516.5 L467.2,515.4 L468.3,514.4 L469.4,513.3 L470.5,512.3 L471.6,511.2 L472.7,510.2 L473.8,509.1 L474.9,508.0 L476.0,506.9 L477.0,505.8 L478.1,504.8 L479.1,503.7 L480.2,502.5 L481.2,501.4 L482.3,500.3 L483.3,499.2 L484.3,498.1 L485.4,497.0 L486.4,495.8 L487.4,494.7 L488.4,493.5 L489.4,492.4 L490.4,491.2 L491.4,490.0 L492.4,488.8 L493.3,487.6 L494.3,486.3 L495.2,485.1 L496.1,483.8 L497.0,482.5 L497.9,481.1 L498.7,479.8 L499.5,478.4 L500.3,477.0 L501.0,475.6 L501.7,474.2 L502.4,472.8 L503.0,471.3 L503.6,469.9 L504.2,468.4 L504.8,466.9 L505.3,465.5 L505.8,464.0 L506.3,462.5 L506.8,461.0 L507.2,459.5 L507.7,458.0 L508.0,456.5 L508.4,454.9 L508.8,453.4 L509.1,451.9 L509.4,450.3 L509.6,448.8 L509.9,447.2 L510.1,445.7 L510.3,444.1 L510.4,442.5 L510.6,441.0 L510.6,439.4 L510.7,437.8 L510.7,436.3 L510.8,434.7 L510.7,433.1 L510.7,431.5 L510.6,430.0 L510.5,428.4 L510.4,426.8 L510.2,425.3 L510.0,423.7 L509.8,422.2 L509.6,420.6 L509.4,419.1 L509.1,417.5 L508.8,416.0 L508.5,414.5 L508.1,413.0 L507.8,411.4 L507.4,409.9 L507.0,408.4 L506.6,406.9 L506.1,405.4 L505.7,403.9 L505.2,402.4 L504.6,401.0 L504.1,399.5 L503.5,398.0 L502.9,396.6 L502.3,395.1 L501.7,393.7 L501.0,392.3 L500.3,390.9 L499.6,389.5 L498.8,388.1 L498.0,386.7 L497.2,385.4 L496.4,384.0 L495.6,382.7 L494.7,381.4 L493.8,380.1 L492.9,378.9 L492.0,377.6 L491.1,376.4 L490.2,375.1 L489.3,373.9 L488.3,372.7 L487.4,371.5 L486.4,370.3 L485.4,369.1 L484.4,367.9 L483.4,366.8 L482.4,365.6 L481.4,364.4 L480.4,363.3 L479.4,362.2 L478.3,361.0 L477.3,359.9 L476.2,358.8 L475.1,357.7 L474.1,356.6 L473.0,355.5 L471.9,354.5 L470.8,353.4 L469.7,352.4 L468.6,351.3 L467.5,350.3 L466.4,349.3 L465.3,348.2 L464.2,347.2 L463.1,346.2 L462.0,345.1 L460.9,344.1 L459.8,343.1 L458.7,342.1 L457.6,341.0 L456.5,340.0 L455.4,339.0 L454.3,337.9 L453.2,336.9 L452.1,335.9 L451.0,334.8 L449.9,333.8 L448.8,332.8 L447.7,331.8 L446.6,330.7 L445.4,329.7 L444.3,328.7 L443.2,327.7 L442.0,326.7 L440.9,325.7 L439.7,324.7 L438.6,323.7 L437.4,322.7 L436.3,321.7 L435.1,320.7 L433.9,319.7 L432.7,318.8 L431.5,317.8 L430.4,316.9 L429.2,315.9 L427.9,315.0 L426.7,314.1 L425.5,313.2 L424.3,312.3 L423.1,311.3 L421.8,310.5 L420.6,309.6 L419.3,308.7 L418.1,307.8 L416.8,307.0 L415.5,306.1 L414.3,305.3 L413.0,304.4 L411.7,303.6 L410.4,302.8 L409.1,302.0 L407.8,301.2 L406.6,300.4 L405.3,299.6 L404.0,298.8 L402.7,298.0 L401.3,297.3 L400.0,296.5 L398.7,295.7 L397.4,295.0 L396.0,294.2 L394.7,293.5 L393.3,292.8 L392.0,292.1 L390.6,291.4 L389.3,290.7 L387.9,290.0 L386.5,289.3 L385.1,288.7 L383.8,288.0 L382.4,287.4 L381.0,286.8 L379.6,286.1 L378.2,285.5 L376.7,284.9 L375.3,284.4 L373.9,283.8 L372.4,283.2 L371.0,282.7 L369.5,282.2 L368.1,281.7 L366.6,281.2 L365.2,280.7 L363.7,280.3 L362.3,279.8 L360.8,279.4 L359.4,279.0 L357.9,278.5 L356.5,278.1 L355.0,277.7 L353.5,277.3 L352.1,276.9 L350.6,276.5 L349.1,276.1 L347.7,275.7 L346.2,275.3 L344.7,274.9 L343.2,274.6 L341.8,274.2 L340.3,273.9 L338.8,273.5 L337.3,273.2 L335.8,272.9 L334.3,272.6 L332.8,272.2 L331.3,272.0 L329.8,271.7 L328.3,271.4 L326.8,271.1 L325.3,270.9 L323.8,270.6 L322.3,270.4 L320.8,270.1 L319.3,269.9 L317.8,269.7 L316.3,269.5 L314.8,269.3 L313.3,269.1 L311.7,269.0 L310.2,268.8 L308.7,268.7 L307.2,268.5 L305.7,268.4 L304.2,268.3 L302.6,268.2 L301.1,268.1 L299.6,268.0 L298.1,267.9 L296.6,267.8 L295.0,267.7 L293.5,267.7 L292.0,267.6 L290.5,267.6 L288.9,267.6 L287.4,267.6 L285.9,267.5 L284.4,267.5 L282.8,267.6 L281.3,267.6 L279.8,267.6 L278.3,267.6 L276.7,267.7 L275.2,267.8 L273.7,267.8 L272.2,267.9 L270.6,268.0 L269.1,268.1 L267.6,268.2 L266.1,268.3 L264.5,268.5 L263.0,268.6 L261.5,268.8 L260.0,269.0 L258.5,269.2 L256.9,269.4 L255.4,269.6 L253.9,269.8 L252.4,270.1 L250.9,270.3 L249.4,270.5 L247.9,270.8 L246.5,271.0 L245.3,271.5 L244.3,272.4 L243.8,273.6 L243.7,274.8 L244.2,276.0 L245.1,277.0 L246.3,277.5 L247.5,277.6 L249.0,277.3 L250.5,277.1 L252.0,276.8 L253.4,276.6 L254.9,276.4 L256.4,276.2 L257.8,276.0 L259.3,275.8 L260.8,275.6 L262.2,275.4 L263.7,275.3 L265.2,275.1 L266.6,275.0 L268.1,274.9 L269.6,274.8 L271.1,274.7 L272.5,274.6 L274.0,274.5 L275.5,274.5 L277.0,274.4 L278.4,274.4 L279.9,274.4 L281.4,274.3 L282.9,274.3 L284.4,274.3 L285.9,274.3 L287.3,274.3 L288.8,274.4 L290.3,274.4 L291.8,274.4 L293.3,274.5 L294.7,274.5 L296.2,274.6 L297.7,274.7 L299.2,274.8 L300.7,274.9 L302.1,275.0 L303.6,275.1 L305.1,275.2 L306.6,275.3 L308.1,275.5 L309.5,275.6 L311.0,275.8 L312.5,275.9 L313.9,276.1 L315.4,276.3 L316.9,276.5 L318.3,276.7 L319.8,276.9 L321.3,277.2 L322.7,277.4 L324.2,277.6 L325.7,277.9 L327.1,278.2 L328.6,278.4 L330.0,278.7 L331.5,279.0 L332.9,279.3 L334.4,279.6 L335.8,279.9 L337.3,280.2 L338.7,280.6 L340.2,280.9 L341.6,281.3 L343.0,281.6 L344.5,282.0 L345.9,282.4 L347.4,282.8 L348.8,283.1 L350.2,283.5 L351.7,283.9 L353.1,284.4 L354.5,284.8 L356.0,285.2 L357.4,285.6 L358.8,286.0 L360.2,286.5 L361.6,286.9 L363.1,287.4 L364.5,287.8 L365.8,288.3 L367.2,288.8 L368.6,289.3 L370.0,289.8 L371.3,290.3 L372.7,290.8 L374.1,291.4 L375.4,292.0 L376.8,292.5 L378.1,293.1 L379.5,293.7 L380.8,294.4 L382.1,295.0 L383.5,295.6 L384.8,296.3 L386.1,296.9 L387.4,297.6 L388.7,298.3 L390.0,299.0 L391.3,299.7 L392.6,300.4 L393.9,301.1 L395.2,301.8 L396.5,302.6 L397.8,303.3 L399.0,304.1 L400.3,304.9 L401.6,305.6 L402.8,306.4 L404.1,307.2 L405.4,308.0 L406.6,308.8 L407.9,309.6 L409.1,310.4 L410.4,311.2 L411.6,312.0 L412.8,312.9 L414.0,313.7 L415.3,314.5 L416.5,315.4 L417.7,316.2 L418.9,317.1 L420.0,318.0 L421.2,318.9 L422.4,319.8 L423.6,320.7 L424.8,321.6 L425.9,322.5 L427.1,323.4 L428.2,324.4 L429.4,325.3 L430.5,326.2 L431.7,327.2 L432.8,328.1 L433.9,329.1 L435.0,330.1 L436.2,331.1 L437.3,332.0 L438.4,333.0 L439.5,334.0 L440.6,335.0 L441.6,336.0 L442.7,337.1 L443.8,338.1 L444.9,339.1 L446.0,340.2 L447.1,341.2 L448.1,342.2 L449.2,343.3 L450.3,344.3 L451.4,345.4 L452.5,346.4 L453.6,347.5 L454.6,348.5 L455.7,349.5 L456.8,350.6 L457.9,351.6 L459.0,352.7 L460.1,353.7 L461.1,354.7 L462.2,355.8 L463.3,356.8 L464.4,357.9 L465.4,358.9 L466.5,360.0 L467.5,361.0 L468.5,362.1 L469.5,363.1 L470.5,364.2 L471.5,365.3 L472.5,366.4 L473.5,367.4 L474.5,368.5 L475.5,369.7 L476.4,370.8 L477.4,371.9 L478.3,373.0 L479.2,374.2 L480.2,375.3 L481.1,376.5 L482.0,377.6 L482.9,378.8 L483.7,380.0 L484.6,381.1 L485.4,382.3 L486.3,383.5 L487.1,384.7 L487.9,385.9 L488.7,387.1 L489.4,388.4 L490.2,389.6 L490.9,390.8 L491.6,392.1 L492.2,393.3 L492.9,394.6 L493.5,395.9 L494.1,397.2 L494.7,398.5 L495.3,399.8 L495.8,401.1 L496.3,402.4 L496.8,403.8 L497.3,405.1 L497.7,406.5 L498.1,407.8 L498.5,409.2 L498.9,410.6 L499.3,412.0 L499.6,413.4 L499.9,414.8 L500.3,416.2 L500.5,417.6 L500.8,419.1 L501.1,420.5 L501.3,421.9 L501.5,423.3 L501.7,424.7 L501.8,426.2 L502.0,427.6 L502.1,429.0 L502.2,430.4 L502.2,431.9 L502.3,433.3 L502.3,434.7 L502.3,436.1 L502.2,437.5 L502.2,439.0 L502.1,440.4 L502.0,441.8 L501.8,443.2 L501.7,444.6 L501.5,446.0 L501.3,447.5 L501.1,448.9 L500.8,450.3 L500.5,451.7 L500.2,453.1 L499.9,454.5 L499.5,455.8 L499.2,457.2 L498.8,458.6 L498.3,460.0 L497.9,461.3 L497.4,462.7 L497.0,464.0 L496.5,465.4 L495.9,466.7 L495.4,468.0 L494.8,469.3 L494.2,470.6 L493.6,471.9 L492.9,473.1 L492.3,474.3 L491.6,475.6 L490.9,476.8 L490.1,477.9 L489.3,479.1 L488.5,480.3 L487.7,481.4 L486.8,482.6 L485.9,483.7 L485.0,484.8 L484.1,486.0 L483.2,487.1 L482.2,488.2 L481.3,489.3 L480.3,490.4 L479.3,491.5 L478.3,492.7 L477.3,493.8 L476.3,494.9 L475.3,495.9 L474.3,497.0 L473.3,498.1 L472.3,499.2 L471.3,500.3 L470.2,501.3 L469.2,502.4 L468.2,503.5 L467.1,504.5 L466.1,505.6 L465.0,506.6 L463.9,507.6 L462.9,508.7 L461.8,509.7 L460.7,510.7 L459.6,511.7 L458.6,512.7 L457.5,513.7 L456.4,514.7 L455.3,515.7 L454.2,516.7 L453.1,517.7 L451.9,518.6 L450.8,519.6 L449.7,520.5 L448.6,521.4 L447.4,522.3 L446.2,523.2 L445.1,524.1 L443.9,525.0 L442.7,525.9 L441.5,526.7 L440.4,527.6 L439.1,528.4 L437.9,529.2 L436.7,530.0 L435.5,530.8 L434.2,531.5 L433.0,532.3 L431.7,533.0 L430.5,533.7 L429.2,534.5 L427.9,535.1 L426.6,535.8 L425.3,536.5 L424.0,537.1 L422.7,537.8 L421.4,538.4 L420.0,539.0 L418.7,539.6 L417.3,540.2 L416.0,540.8 L414.6,541.4 L413.3,541.9 L411.9,542.5 L410.5,543.1 L409.2,543.6 L407.8,544.1 L406.4,544.6 L405.0,545.1 L403.6,545.6 L402.2,546.1 L400.8,546.6 L399.4,547.0 L398.0,547.5 L396.6,547.9 L395.2,548.4 L393.7,548.8 L392.3,549.2 L390.9,549.7 L389.5,550.1 L388.0,550.5 L386.6,550.9 L385.2,551.3 L383.7,551.8 L382.3,552.2 L380.9,552.6 L379.4,552.9 L378.0,553.3 L376.5,553.7 L375.1,554.1 L373.7,554.4 L372.2,554.8 L370.8,555.1 L369.3,555.5 L367.9,555.8 L366.5,556.1 L365.0,556.4 L363.6,556.7 L362.1,557.0 L360.7,557.2 L359.2,557.5 L357.8,557.7 L356.3,557.9 L354.9,558.2 L353.4,558.4 L351.9,558.6 L350.5,558.7 L349.0,558.9 L347.5,559.1 L346.0,559.2 L344.6,559.4 L343.1,559.6 L341.6,559.7 L340.1,559.9 L338.6,560.0 L337.1,560.2 L335.6,560.3 L334.1,560.4 L332.7,560.5 L331.2,560.7 L329.7,560.8 L328.2,560.9 L326.8,561.0 L325.3,561.0 L323.8,561.1 L322.3,561.2 L320.9,561.2 L319.4,561.2 L317.9,561.2 L316.5,561.2 L315.0,561.2 L313.5,561.1 L312.0,561.1 L310.6,561.0 L309.1,560.9 L307.6,560.8 L306.1,560.8 L304.7,560.6 L303.2,560.5 L301.7,560.4 L300.2,560.3 L298.8,560.1 L297.3,560.0 L295.8,559.8 L294.4,559.6 L292.9,559.4 L291.5,559.2 L290.0,559.0 L288.5,558.8 L287.1,558.6 L285.6,558.3 L284.2,558.1 L282.7,557.8 L281.2,557.6 L279.7,557.3 L278.3,557.0 L276.8,556.8 L275.3,556.5 L273.8,556.2 L272.3,556.0 L270.8,555.7 L269.4,555.4 L267.9,555.2 L266.4,554.9 L265.0,554.7 L263.5,554.4 L262.1,554.1 L260.6,553.8 L259.2,553.5 L257.8,553.2 L256.4,552.8 L255.0,552.5 L253.6,552.1 L252.2,551.7 L250.8,551.2 L249.5,550.8 L248.1,550.3 L246.7,549.9 L245.3,549.4 L244.0,548.9 L242.6,548.3 L241.3,547.8 L239.9,547.2 L238.6,546.7 L237.2,546.1 L235.9,545.5 L234.6,544.9 L233.2,544.3 L231.9,543.6 L230.6,543.0 L229.3,542.4 L228.0,541.7 L226.7,541.0 L225.4,540.3 L224.1,539.6 L222.8,538.9 L221.5,538.2 L220.3,537.5 L219.0,536.8 L217.8,536.0 L216.6,535.2 L215.4,534.5 L214.2,533.7 L213.1,532.8 L211.9,532.0 L210.8,531.1 L209.7,530.3 L208.6,529.3 L207.5,528.4 L206.4,527.5 L205.4,526.5 L204.3,525.5 L203.2,524.5 L202.1,523.5 L201.1,522.5 L200.0,521.4 L198.9,520.4 L197.9,519.4 L196.8,518.3 L195.8,517.3 L194.8,516.2 L193.7,515.2 L192.7,514.1 L191.7,513.0 L190.7,512.0 L189.7,510.9 L188.7,509.8 L187.7,508.7 L186.8,507.6 L185.8,506.5 L184.9,505.4 L183.9,504.2 L182.9,503.1 L182.0,501.9 L181.0,500.8 L180.0,499.6 L179.1,498.5 L178.1,497.3 L177.1,496.1 L176.1,495.0 L175.1,493.9 L174.1,492.7 L173.1,491.6 L172.0,490.5 L171.0,489.4 L170.0,488.2 L169.0,487.1 L167.9,486.0 L166.9,484.9 L165.9,483.8 L164.9,482.7 L163.8,481.6 L162.8,480.5 L161.8,479.4 L160.8,478.3 L159.8,477.2 L158.8,476.1 L157.9,475.0 L156.9,473.9 L156.0,472.9 L155.1,471.7 L154.2,470.6 L153.4,469.5 L152.6,468.4 L151.8,467.2 L151.0,466.1 L150.3,464.9 L149.5,463.7 L148.8,462.5 L148.2,461.2 L147.5,460.0 L146.9,458.7 L146.3,457.4 L145.7,456.1 L145.2,454.8 L144.7,453.5 L144.2,452.2 L143.7,450.9 L143.3,449.5 L142.9,448.2 L142.5,446.8 L142.2,445.4 L141.8,444.1 L141.6,442.7 L141.3,441.3 L141.1,439.9 L140.9,438.4 L140.7,437.0 L140.6,435.6 L140.4,434.1 L140.3,432.7 L140.2,431.2 L140.2,429.7 L140.1,428.3 L140.0,426.8 L140.0,425.3 L139.9,423.8 L139.9,422.3 L139.8,420.8 L139.8,419.3 L139.8,417.9 L139.8,416.4 L139.7,414.9 L139.7,413.4 L139.7,411.9 L139.8,410.4 L139.8,409.0 L139.8,407.5 L139.8,406.0 L139.9,404.5 L139.9,403.0 L140.0,401.5 L140.0,400.0 L140.1,398.5 L140.2,397.1 L140.3,395.6 L140.3,394.1 L140.4,392.6 L140.5,391.1 L140.6,389.6 L140.7,388.2 L140.8,386.7 L141.0,385.2 L141.1,383.7 L141.2,382.3 L141.4,380.8 L141.6,379.4 L141.8,377.9 L141.9,376.4 L142.2,375.0 L142.4,373.5 L142.6,372.1 L142.9,370.6 L143.1,369.2 L143.4,367.8 L143.7,366.3 L144.0,364.8 L144.3,363.4 L144.6,361.9 L144.9,360.5 L145.2,359.0 L145.6,357.6 L145.9,356.2 L146.3,354.7 L146.6,353.3 L147.0,351.9 L147.4,350.5 L147.8,349.1 L148.2,347.7 L148.6,346.3 L149.1,344.9 L149.5,343.5 L150.0,342.1 L150.5,340.7 L151.0,339.4 L151.5,338.0 L152.0,336.6 L152.6,335.3 L153.1,333.9 L153.7,332.6 L154.2,331.3 L154.8,330.0 L155.5,328.7 L156.1,327.4 L156.8,326.2 L157.5,324.9 L158.2,323.7 L158.9,322.5 L159.7,321.4 L160.5,320.2 L161.3,319.1 L162.1,318.0 L163.0,316.9 L163.9,315.8 L164.8,314.7 L165.7,313.7 L166.7,312.7 L167.7,311.6 L168.7,310.7 L169.7,309.7 L170.8,308.7 L171.8,307.8 L172.9,306.9 L174.0,306.0 L175.1,305.2 L176.2,304.3 L177.3,303.5 L178.5,302.7 L179.7,301.9 L180.8,301.2 L182.0,300.5 L183.3,299.8 L184.5,299.1 L185.7,298.5 L187.0,297.9 L188.3,297.3 L189.6,296.7 L190.9,296.1 L192.3,295.6 L193.6,295.0 L195.0,294.5 L196.4,293.9 L197.8,293.4 L199.2,292.8 L200.6,292.2 L202.0,291.6 L203.4,291.0 L204.8,290.4 L206.2,289.8 L207.5,289.2 L208.8,288.6 L210.2,288.0 L211.5,287.5 L212.9,287.0 L214.2,286.5 L215.6,286.0 L216.9,285.5 L218.3,285.0 L219.7,284.6 L221.1,284.2 L222.5,283.8 L223.9,283.4 L225.3,283.0 L226.7,282.7 L228.1,282.4 L229.4,282.1 L230.8,281.8 L232.2,281.6 L233.5,281.5 L234.9,281.3 L236.2,281.2 L237.6,281.2 L239.0,281.2 L240.4,281.2 L241.8,281.3 L243.2,281.4 L244.6,281.5 L246.1,281.7 L247.5,281.9 L249.0,282.0 L250.5,282.2 L251.8,282.2 L252.9,281.6 L253.8,280.7 L254.2,279.5 L254.2,278.2 L253.6,277.1 L252.7,276.2 Z"/>
<path d="M186.2,402.6 L185.9,404.1 L185.7,405.6 L185.6,407.1 L185.4,408.6 L185.2,410.0 L185.0,411.4 L184.8,412.9 L184.6,414.3 L184.4,415.8 L184.1,417.3 L183.9,418.8 L183.7,420.3 L183.5,421.8 L183.2,423.3 L183.0,424.8 L182.8,426.3 L182.5,427.8 L182.3,429.3 L182.0,430.8 L181.8,432.2 L181.5,433.7 L181.3,435.2 L181.0,436.7 L180.7,438.2 L180.5,439.7 L180.2,441.2 L180.0,442.7 L179.7,444.2 L179.4,445.6 L179.2,447.1 L178.9,448.6 L178.6,450.1 L178.3,451.6 L178.0,453.0 L177.7,454.5 L177.4,456.0 L177.1,457.5 L176.8,459.0 L176.5,460.5 L176.2,461.9 L175.9,463.4 L175.6,464.9 L175.3,466.4 L174.9,467.9 L174.6,469.4 L174.3,471.0 L174.0,472.5 L173.8,474.1 L173.5,475.6 L173.3,477.2 L173.1,478.7 L172.9,480.4 L172.7,482.0 L172.6,483.8 L172.6,485.5 L172.6,487.3 L172.8,489.1 L173.1,490.9 L173.5,492.7 L174.0,494.5 L174.6,496.3 L175.4,498.1 L176.4,499.7 L177.4,501.2 L178.3,502.6 L179.3,503.9 L180.2,505.2 L181.2,506.5 L182.4,507.9 L183.7,509.2 L185.1,510.5 L186.6,511.7 L188.2,512.8 L189.8,513.7 L191.4,514.4 L193.0,515.1 L194.6,515.7 L196.2,516.3 L197.8,516.8 L199.4,517.2 L201.0,517.6 L202.6,518.0 L204.3,518.3 L206.0,518.6 L207.7,518.8 L209.4,518.9 L211.1,519.0 L212.8,518.9 L214.6,518.9 L216.3,518.7 L217.9,518.5 L219.6,518.3 L221.3,517.9 L223.0,517.5 L224.7,517.0 L226.5,516.5 L228.2,515.8 L229.9,514.9 L231.5,514.0 L233.2,512.9 L234.9,511.3 L236.5,509.3 L237.7,507.0 L238.3,504.9 L238.8,503.2 L238.7,501.0 L237.8,498.9 L236.1,497.4 L234.0,496.6 L231.8,496.7 L229.7,497.6 L228.2,499.3 L227.4,501.4 L227.4,502.7 L227.3,503.5 L227.3,503.9 L227.1,504.2 L226.6,504.8 L225.8,505.4 L224.9,506.0 L223.9,506.6 L222.8,507.1 L221.7,507.5 L220.5,507.9 L219.2,508.2 L217.9,508.4 L216.6,508.6 L215.2,508.8 L213.9,508.9 L212.6,508.9 L211.3,509.0 L210.0,508.9 L208.6,508.8 L207.3,508.7 L206.0,508.4 L204.6,508.2 L203.3,507.9 L202.0,507.6 L200.7,507.2 L199.3,506.8 L198.0,506.3 L196.8,505.8 L195.6,505.3 L194.4,504.8 L193.4,504.2 L192.5,503.6 L191.6,502.9 L190.8,502.1 L190.1,501.3 L189.3,500.3 L188.5,499.1 L187.7,498.0 L186.9,496.7 L186.2,495.6 L185.5,494.5 L185.1,493.5 L184.7,492.5 L184.4,491.4 L184.1,490.2 L183.8,489.0 L183.7,487.8 L183.6,486.6 L183.5,485.4 L183.5,484.1 L183.6,482.8 L183.7,481.4 L183.8,480.0 L183.9,478.6 L184.1,477.1 L184.3,475.6 L184.5,474.2 L184.7,472.7 L184.9,471.3 L185.1,469.8 L185.4,468.3 L185.6,466.8 L185.9,465.3 L186.2,463.8 L186.4,462.3 L186.6,460.7 L186.9,459.2 L187.1,457.7 L187.3,456.2 L187.5,454.7 L187.7,453.2 L188.0,451.7 L188.2,450.1 L188.4,448.6 L188.6,447.1 L188.8,445.6 L189.0,444.0 L189.2,442.5 L189.4,441.0 L189.6,439.5 L189.7,437.9 L189.9,436.4 L190.0,434.9 L190.2,433.4 L190.3,431.8 L190.4,430.3 L190.6,428.8 L190.7,427.3 L190.9,425.7 L191.0,424.2 L191.1,422.7 L191.2,421.2 L191.4,419.6 L191.5,418.1 L191.6,416.5 L191.6,415.0 L191.7,413.4 L191.6,411.8 L191.6,410.2 L191.4,408.6 L191.2,407.0 L191.0,405.4 L190.6,403.9 L190.2,402.4 L190.0,401.6 L189.5,401.0 L188.9,400.6 L188.1,400.5 L187.3,400.7 L186.7,401.2 L186.3,401.8 Z"/>
<path d="M259.7,406.5 L261.2,406.8 L262.7,407.0 L264.2,407.2 L265.7,407.4 L267.2,407.6 L268.7,407.8 L270.1,408.1 L271.6,408.3 L273.1,408.5 L274.6,408.7 L276.1,409.0 L277.5,409.2 L279.0,409.4 L280.5,409.7 L281.9,409.9 L283.4,410.2 L284.8,410.5 L286.2,410.7 L287.6,411.0 L289.0,411.4 L290.4,411.7 L291.7,412.1 L293.0,412.5 L294.3,413.0 L295.6,413.4 L296.9,413.9 L298.2,414.5 L299.4,415.0 L300.5,415.6 L301.7,416.3 L302.8,417.0 L303.8,417.7 L304.9,418.5 L306.0,419.3 L307.0,420.2 L308.0,421.1 L309.1,422.0 L310.1,423.0 L311.1,424.0 L312.1,425.1 L313.1,426.1 L314.0,427.2 L315.0,428.2 L315.9,429.3 L316.9,430.4 L317.8,431.5 L318.7,432.7 L319.6,433.8 L320.4,435.0 L321.3,436.1 L322.1,437.3 L322.9,438.4 L323.6,439.6 L324.4,440.8 L325.1,442.0 L325.7,443.2 L326.4,444.4 L327.0,445.6 L327.5,446.9 L328.0,448.1 L328.5,449.4 L329.0,450.6 L329.3,451.9 L329.7,453.1 L329.9,454.4 L330.2,455.6 L330.4,456.9 L330.5,458.2 L330.6,459.5 L330.6,460.8 L330.5,462.1 L330.5,463.4 L330.3,464.7 L330.2,466.0 L329.9,467.3 L329.7,468.6 L329.3,469.9 L329.0,471.1 L328.6,472.4 L328.1,473.7 L327.6,474.9 L327.1,476.2 L326.6,477.4 L326.0,478.6 L325.3,479.8 L324.6,480.9 L323.9,482.0 L323.2,483.1 L322.4,484.2 L321.6,485.2 L320.7,486.2 L319.8,487.2 L318.9,488.2 L317.9,489.1 L316.9,490.0 L315.8,490.9 L314.8,491.8 L313.7,492.7 L312.6,493.5 L311.4,494.3 L310.3,495.1 L309.1,495.8 L307.9,496.5 L306.7,497.2 L305.6,497.8 L304.5,498.4 L303.4,498.8 L302.4,499.1 L301.5,499.3 L300.6,499.5 L299.7,499.5 L298.8,499.4 L297.9,499.2 L296.9,498.8 L295.9,498.4 L294.9,497.9 L293.9,497.3 L292.9,496.6 L291.9,495.9 L291.0,495.1 L290.1,494.2 L289.2,493.3 L288.4,492.3 L287.6,491.3 L286.8,490.2 L286.0,489.1 L285.3,488.0 L284.5,486.8 L283.8,485.6 L283.1,484.3 L282.4,483.1 L281.8,481.8 L281.1,480.5 L280.5,479.2 L279.9,477.9 L279.3,476.6 L278.8,475.3 L278.2,474.0 L277.7,472.7 L277.3,471.3 L276.8,470.0 L276.4,468.7 L276.0,467.3 L275.6,465.9 L275.3,464.6 L274.9,463.2 L274.6,461.8 L274.4,460.4 L274.1,459.0 L273.9,457.6 L273.8,456.3 L273.6,454.9 L273.5,453.5 L273.4,452.1 L273.4,450.7 L273.4,449.3 L273.4,447.8 L273.4,446.4 L273.5,445.0 L273.6,443.5 L273.7,442.1 L273.8,440.7 L273.9,439.3 L274.1,437.9 L274.3,436.5 L274.5,435.1 L274.8,433.7 L275.1,432.4 L275.4,431.0 L275.8,429.7 L276.1,428.3 L276.6,427.0 L277.0,425.6 L277.5,424.3 L278.0,422.9 L278.5,421.6 L279.0,420.2 L279.6,418.9 L280.2,417.5 L280.7,416.1 L281.3,414.8 L281.9,413.4 L282.6,412.0 L283.2,410.7 L283.6,408.8 L283.3,407.0 L282.3,405.4 L280.8,404.3 L278.9,403.9 L277.1,404.2 L275.5,405.2 L274.4,406.7 L273.8,408.1 L273.2,409.5 L272.5,410.9 L271.9,412.3 L271.3,413.7 L270.7,415.1 L270.1,416.6 L269.5,418.0 L269.0,419.5 L268.4,421.0 L267.9,422.5 L267.4,424.0 L266.9,425.5 L266.4,427.1 L266.0,428.6 L265.6,430.2 L265.3,431.8 L265.0,433.4 L264.7,435.0 L264.5,436.6 L264.3,438.2 L264.1,439.8 L264.0,441.3 L263.8,442.9 L263.7,444.5 L263.7,446.1 L263.6,447.7 L263.6,449.3 L263.6,450.9 L263.7,452.5 L263.8,454.1 L263.9,455.7 L264.0,457.3 L264.2,458.9 L264.5,460.5 L264.7,462.1 L265.0,463.7 L265.4,465.3 L265.7,466.9 L266.1,468.4 L266.5,470.0 L267.0,471.5 L267.5,473.0 L268.0,474.5 L268.5,476.1 L269.1,477.6 L269.7,479.0 L270.3,480.5 L270.9,482.0 L271.6,483.4 L272.3,484.9 L273.0,486.3 L273.7,487.7 L274.5,489.1 L275.2,490.5 L276.0,491.9 L276.9,493.2 L277.8,494.6 L278.7,496.0 L279.7,497.3 L280.8,498.7 L281.9,500.0 L283.1,501.2 L284.3,502.4 L285.7,503.6 L287.1,504.7 L288.5,505.7 L290.1,506.6 L291.7,507.4 L293.4,508.2 L295.2,508.8 L297.1,509.2 L299.1,509.4 L301.1,509.4 L303.1,509.2 L305.0,508.8 L306.8,508.2 L308.5,507.6 L310.1,506.8 L311.6,506.1 L313.0,505.3 L314.4,504.4 L315.8,503.6 L317.1,502.7 L318.5,501.7 L319.8,500.8 L321.1,499.8 L322.4,498.7 L323.6,497.7 L324.8,496.6 L326.0,495.4 L327.2,494.3 L328.3,493.0 L329.4,491.8 L330.5,490.5 L331.5,489.1 L332.5,487.7 L333.4,486.3 L334.3,484.9 L335.1,483.4 L335.8,481.9 L336.5,480.4 L337.2,478.9 L337.8,477.3 L338.4,475.7 L338.9,474.2 L339.4,472.5 L339.8,470.9 L340.1,469.3 L340.4,467.6 L340.7,465.9 L340.9,464.2 L341.0,462.5 L341.0,460.8 L341.0,459.1 L340.9,457.4 L340.8,455.7 L340.5,454.0 L340.2,452.3 L339.9,450.6 L339.4,449.0 L338.9,447.3 L338.3,445.8 L337.7,444.2 L337.1,442.7 L336.4,441.2 L335.6,439.7 L334.9,438.3 L334.1,436.8 L333.2,435.4 L332.4,434.0 L331.5,432.7 L330.6,431.4 L329.6,430.1 L328.7,428.8 L327.7,427.5 L326.8,426.3 L325.8,425.0 L324.7,423.8 L323.7,422.6 L322.7,421.4 L321.6,420.3 L320.5,419.1 L319.5,418.0 L318.3,416.8 L317.2,415.7 L316.0,414.6 L314.8,413.5 L313.6,412.4 L312.3,411.4 L311.0,410.4 L309.6,409.4 L308.2,408.4 L306.8,407.6 L305.3,406.7 L303.8,406.0 L302.2,405.3 L300.7,404.6 L299.2,404.0 L297.6,403.5 L296.1,403.0 L294.5,402.5 L293.0,402.1 L291.4,401.7 L289.8,401.3 L288.3,401.0 L286.7,400.6 L285.2,400.3 L283.7,400.1 L282.2,399.8 L280.6,399.6 L279.1,399.3 L277.6,399.1 L276.1,398.8 L274.6,398.6 L273.1,398.4 L271.6,398.2 L270.1,397.9 L268.6,397.7 L267.1,397.5 L265.6,397.3 L264.1,397.1 L262.6,396.9 L261.1,396.7 L259.2,396.8 L257.4,397.6 L256.1,399.0 L255.5,400.9 L255.6,402.8 L256.4,404.6 L257.8,405.9 Z"/>
<path d="M427.3,397.2 L425.8,397.3 L424.2,397.4 L422.7,397.6 L421.1,397.8 L419.5,398.1 L417.9,398.4 L416.3,398.8 L414.7,399.3 L413.1,399.9 L411.5,400.5 L410.0,401.2 L408.5,401.9 L407.1,402.7 L405.7,403.5 L404.3,404.4 L403.0,405.3 L401.7,406.2 L400.4,407.2 L399.2,408.2 L397.9,409.2 L396.7,410.3 L395.5,411.3 L394.4,412.4 L393.2,413.5 L392.1,414.7 L391.0,415.9 L390.0,417.0 L388.9,418.2 L387.9,419.4 L386.9,420.6 L385.9,421.9 L385.0,423.1 L384.0,424.4 L383.1,425.7 L382.2,427.0 L381.3,428.3 L380.4,429.6 L379.6,431.0 L378.8,432.3 L378.0,433.7 L377.2,435.1 L376.5,436.6 L375.8,438.0 L375.2,439.5 L374.5,440.9 L373.9,442.4 L373.3,443.9 L372.7,445.4 L372.2,446.9 L371.7,448.5 L371.3,450.0 L370.9,451.6 L370.5,453.2 L370.1,454.8 L369.8,456.4 L369.6,458.0 L369.3,459.6 L369.2,461.2 L369.0,462.8 L368.9,464.4 L368.8,466.1 L368.8,467.7 L368.8,469.3 L368.9,470.9 L369.0,472.6 L369.1,474.2 L369.3,475.8 L369.5,477.4 L369.8,479.1 L370.1,480.7 L370.5,482.4 L371.0,484.0 L371.5,485.6 L372.1,487.2 L372.7,488.7 L373.4,490.2 L374.1,491.7 L374.8,493.2 L375.6,494.6 L376.4,496.1 L377.3,497.4 L378.2,498.8 L379.1,500.2 L380.1,501.5 L381.2,502.8 L382.3,504.1 L383.4,505.4 L384.7,506.6 L386.0,507.7 L387.3,508.8 L388.7,509.9 L390.2,510.8 L391.7,511.7 L393.2,512.5 L394.8,513.3 L396.4,513.9 L398.0,514.5 L399.6,515.0 L401.2,515.5 L402.8,515.9 L404.4,516.2 L405.9,516.6 L407.5,516.9 L409.0,517.1 L410.6,517.4 L412.2,517.6 L413.8,517.8 L415.5,518.0 L417.2,518.1 L419.0,518.1 L420.9,517.9 L422.9,517.6 L424.8,517.1 L426.8,516.4 L428.6,515.4 L430.4,514.1 L431.9,512.6 L433.3,510.7 L434.4,508.7 L435.0,506.4 L435.3,504.2 L435.2,502.1 L434.9,500.1 L434.5,498.4 L434.0,496.7 L433.5,495.1 L432.9,493.5 L432.3,491.9 L431.6,490.4 L430.9,488.9 L430.1,487.4 L429.3,486.0 L428.5,484.6 L427.6,483.2 L426.8,481.9 L425.9,480.5 L424.9,479.2 L424.0,477.9 L423.0,476.6 L422.1,475.4 L421.1,474.2 L420.2,473.0 L419.3,471.9 L418.4,470.7 L417.5,469.6 L416.7,468.4 L415.8,467.2 L415.1,466.1 L414.4,465.0 L413.8,464.0 L413.3,463.1 L413.0,462.2 L412.9,461.5 L412.8,461.0 L412.9,460.6 L413.0,460.3 L413.1,460.0 L413.4,459.8 L413.8,459.4 L414.5,459.0 L415.5,458.7 L416.6,458.3 L417.8,458.0 L419.0,457.7 L420.3,457.5 L421.7,457.2 L423.0,457.1 L424.4,457.0 L425.8,456.9 L427.1,456.8 L428.5,456.8 L429.9,456.8 L431.3,456.8 L432.7,456.8 L434.0,456.9 L435.3,457.1 L436.5,457.2 L437.7,457.5 L438.8,457.8 L439.9,458.2 L440.9,458.6 L442.0,459.2 L443.0,459.8 L444.0,460.5 L445.1,461.2 L446.1,462.1 L447.1,462.9 L448.0,463.8 L449.0,464.8 L449.9,465.8 L450.8,466.8 L451.7,467.8 L452.6,468.9 L453.4,470.0 L454.2,471.2 L455.1,472.3 L455.9,473.5 L456.6,474.7 L457.4,475.9 L458.1,477.1 L458.8,478.3 L459.5,479.5 L460.1,480.7 L460.6,481.9 L461.1,483.1 L461.6,484.4 L462.1,485.7 L462.5,487.0 L462.9,488.3 L463.3,489.7 L463.7,491.2 L464.1,492.6 L464.4,494.1 L464.8,495.6 L465.2,497.0 L465.6,498.5 L466.0,499.9 L466.4,501.4 L466.8,502.8 L467.7,504.6 L469.2,506.0 L471.1,506.7 L473.1,506.5 L474.9,505.6 L476.3,504.1 L477.0,502.2 L476.8,500.2 L476.4,498.7 L476.1,497.2 L475.7,495.8 L475.3,494.3 L474.9,492.8 L474.5,491.4 L474.1,489.9 L473.7,488.5 L473.3,487.0 L472.9,485.5 L472.4,484.0 L471.9,482.4 L471.4,480.8 L470.8,479.2 L470.1,477.7 L469.4,476.2 L468.7,474.7 L467.9,473.2 L467.1,471.8 L466.2,470.4 L465.4,469.1 L464.5,467.7 L463.6,466.4 L462.7,465.1 L461.7,463.8 L460.8,462.5 L459.7,461.3 L458.7,460.0 L457.6,458.8 L456.5,457.5 L455.3,456.4 L454.0,455.2 L452.8,454.1 L451.4,453.0 L450.0,452.0 L448.6,451.0 L447.0,450.1 L445.4,449.2 L443.7,448.5 L442.0,447.9 L440.2,447.4 L438.4,447.0 L436.7,446.7 L435.0,446.6 L433.3,446.4 L431.6,446.4 L430.0,446.4 L428.4,446.4 L426.8,446.4 L425.2,446.5 L423.5,446.6 L421.9,446.7 L420.2,446.9 L418.6,447.2 L416.9,447.5 L415.3,447.9 L413.6,448.3 L411.8,448.9 L410.0,449.7 L408.2,450.7 L406.4,452.1 L404.8,453.9 L403.5,456.0 L402.7,458.3 L402.4,460.7 L402.6,463.0 L403.1,465.1 L403.7,467.1 L404.6,468.8 L405.5,470.4 L406.4,471.8 L407.3,473.2 L408.2,474.5 L409.2,475.8 L410.1,477.0 L411.1,478.3 L412.0,479.5 L413.0,480.7 L413.9,481.8 L414.8,483.0 L415.7,484.1 L416.5,485.3 L417.3,486.4 L418.1,487.6 L418.8,488.7 L419.6,489.9 L420.3,491.1 L420.9,492.4 L421.6,493.6 L422.2,494.8 L422.7,496.0 L423.2,497.3 L423.7,498.5 L424.1,499.7 L424.4,500.9 L424.7,502.1 L424.8,503.1 L424.9,503.9 L424.8,504.4 L424.7,504.9 L424.5,505.3 L424.2,505.8 L423.7,506.3 L423.1,506.8 L422.4,507.1 L421.6,507.5 L420.7,507.7 L419.8,507.9 L418.7,508.0 L417.5,508.0 L416.2,507.9 L414.9,507.8 L413.5,507.6 L412.1,507.4 L410.7,507.2 L409.3,507.0 L407.9,506.7 L406.5,506.4 L405.1,506.1 L403.7,505.8 L402.4,505.5 L401.2,505.1 L400.0,504.6 L398.8,504.2 L397.6,503.6 L396.5,503.0 L395.4,502.4 L394.3,501.7 L393.3,501.0 L392.3,500.2 L391.4,499.4 L390.5,498.5 L389.6,497.6 L388.7,496.6 L387.9,495.5 L387.1,494.4 L386.3,493.3 L385.5,492.2 L384.8,491.0 L384.1,489.8 L383.4,488.6 L382.8,487.4 L382.2,486.2 L381.6,484.9 L381.1,483.7 L380.7,482.4 L380.2,481.2 L379.9,479.9 L379.6,478.6 L379.3,477.3 L379.1,476.0 L378.9,474.6 L378.7,473.2 L378.6,471.8 L378.5,470.5 L378.4,469.1 L378.4,467.7 L378.4,466.3 L378.4,464.9 L378.5,463.5 L378.6,462.1 L378.8,460.7 L379.0,459.4 L379.2,458.0 L379.4,456.6 L379.7,455.3 L380.0,453.9 L380.4,452.5 L380.8,451.2 L381.2,449.9 L381.6,448.5 L382.1,447.2 L382.6,445.9 L383.1,444.6 L383.7,443.3 L384.3,442.0 L384.9,440.7 L385.5,439.4 L386.2,438.2 L386.9,436.9 L387.6,435.7 L388.3,434.4 L389.0,433.2 L389.8,432.0 L390.5,430.8 L391.4,429.6 L392.2,428.4 L393.0,427.2 L393.9,426.1 L394.8,424.9 L395.7,423.8 L396.6,422.7 L397.5,421.6 L398.4,420.5 L399.4,419.5 L400.4,418.4 L401.3,417.4 L402.4,416.4 L403.4,415.5 L404.5,414.5 L405.5,413.6 L406.6,412.7 L407.8,411.8 L408.9,411.0 L410.0,410.2 L411.2,409.4 L412.4,408.7 L413.5,408.0 L414.7,407.3 L415.9,406.7 L417.1,406.2 L418.4,405.7 L419.7,405.3 L421.0,405.0 L422.3,404.7 L423.7,404.4 L425.2,404.1 L426.6,403.9 L428.1,403.6 L429.3,403.2 L430.3,402.4 L430.8,401.2 L430.9,400.0 L430.5,398.8 L429.7,397.8 L428.5,397.3 Z"/>
</g>
</svg></body></html>
